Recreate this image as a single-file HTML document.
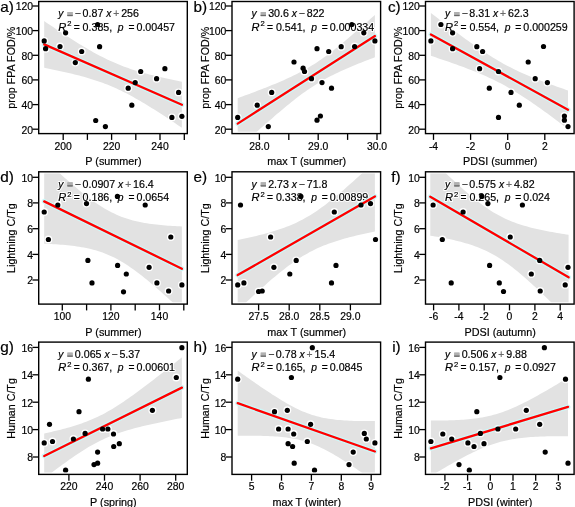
<!DOCTYPE html><html><head><meta charset="utf-8"><style>html,body{margin:0;padding:0;background:#fff;}svg{display:block;will-change:transform;}text{font-family:"Liberation Sans",sans-serif;fill:#000;stroke:#000;stroke-width:0.18px;}.h text{fill:#fff;stroke:#fff;stroke-width:2.2px;stroke-linejoin:round;} text.op{fill:#333;stroke:#333;stroke-width:0.2px;}text.pl{fill:#6a6a6a;stroke:#6a6a6a;}.h text.op{fill:#fff;stroke:#fff;}</style></head><body><svg width="575" height="507" viewBox="0 0 575 507" font-family="Liberation Sans, sans-serif"><defs><clipPath id="cla"><rect x="40.50" y="3.30" width="145.00" height="128.50"/></clipPath><clipPath id="clb"><rect x="233.80" y="3.30" width="145.00" height="128.50"/></clipPath><clipPath id="clc"><rect x="427.30" y="3.30" width="145.00" height="128.50"/></clipPath><clipPath id="cld"><rect x="40.50" y="173.60" width="145.00" height="128.70"/></clipPath><clipPath id="cle"><rect x="233.80" y="173.60" width="145.00" height="128.70"/></clipPath><clipPath id="clf"><rect x="427.30" y="173.60" width="145.00" height="128.70"/></clipPath><clipPath id="clg"><rect x="40.50" y="343.90" width="145.00" height="128.70"/></clipPath><clipPath id="clh"><rect x="233.80" y="343.90" width="145.00" height="128.70"/></clipPath><clipPath id="cli"><rect x="427.30" y="343.90" width="145.00" height="128.70"/></clipPath></defs><rect width="575" height="507" fill="#fff"/><g clip-path="url(#cla)">
<polygon points="44.20,21.04 46.53,22.63 48.87,24.20 51.20,25.77 53.54,27.33 55.87,28.89 58.20,30.44 60.54,31.97 62.87,33.50 65.21,35.02 67.54,36.53 69.87,38.03 72.21,39.52 74.54,40.99 76.87,42.45 79.21,43.89 81.54,45.31 83.88,46.72 86.21,48.10 88.54,49.47 90.88,50.81 93.21,52.13 95.55,53.42 97.88,54.68 100.21,55.91 102.55,57.11 104.88,58.28 107.22,59.42 109.55,60.52 111.88,61.59 114.22,62.62 116.55,63.62 118.88,64.58 121.22,65.51 123.55,66.40 125.89,67.26 128.22,68.09 130.55,68.89 132.89,69.66 135.22,70.41 137.56,71.12 139.89,71.82 142.22,72.49 144.56,73.14 146.89,73.77 149.23,74.38 151.56,74.98 153.89,75.56 156.23,76.13 158.56,76.68 160.89,77.22 163.23,77.75 165.56,78.27 167.90,78.78 170.23,79.29 172.56,79.78 174.90,80.27 177.23,80.75 179.57,81.22 181.90,81.69 181.90,127.78 179.57,126.20 177.23,124.63 174.90,123.06 172.56,121.50 170.23,119.95 167.90,118.41 165.56,116.87 163.23,115.35 160.89,113.84 158.56,112.33 156.23,110.84 153.89,109.36 151.56,107.90 149.23,106.45 146.89,105.02 144.56,103.61 142.22,102.21 139.89,100.84 137.56,99.49 135.22,98.16 132.89,96.86 130.55,95.58 128.22,94.33 125.89,93.12 123.55,91.94 121.22,90.78 118.88,89.67 116.55,88.58 114.22,87.54 111.88,86.52 109.55,85.55 107.22,84.60 104.88,83.70 102.55,82.82 100.21,81.98 97.88,81.17 95.55,80.38 93.21,79.63 90.88,78.90 88.54,78.20 86.21,77.52 83.88,76.86 81.54,76.22 79.21,75.60 76.87,74.99 74.54,74.41 72.21,73.83 69.87,73.27 67.54,72.73 65.21,72.19 62.87,71.67 60.54,71.15 58.20,70.65 55.87,70.15 53.54,69.66 51.20,69.18 48.87,68.70 46.53,68.23 44.20,67.77" fill="#e2e2e2"/>
<circle cx="44.20" cy="40.90" r="3.95" fill="#fff"/>
<circle cx="45.60" cy="48.70" r="3.95" fill="#fff"/>
<circle cx="60.00" cy="46.50" r="3.95" fill="#fff"/>
<circle cx="65.60" cy="32.80" r="3.95" fill="#fff"/>
<circle cx="75.30" cy="62.60" r="3.95" fill="#fff"/>
<circle cx="81.70" cy="51.50" r="3.95" fill="#fff"/>
<circle cx="95.70" cy="120.50" r="3.95" fill="#fff"/>
<circle cx="97.60" cy="24.50" r="3.95" fill="#fff"/>
<circle cx="99.60" cy="46.70" r="3.95" fill="#fff"/>
<circle cx="105.40" cy="126.60" r="3.95" fill="#fff"/>
<circle cx="128.20" cy="88.20" r="3.95" fill="#fff"/>
<circle cx="131.80" cy="105.20" r="3.95" fill="#fff"/>
<circle cx="135.20" cy="82.60" r="3.95" fill="#fff"/>
<circle cx="140.70" cy="71.50" r="3.95" fill="#fff"/>
<circle cx="156.60" cy="78.70" r="3.95" fill="#fff"/>
<circle cx="164.90" cy="68.70" r="3.95" fill="#fff"/>
<circle cx="171.90" cy="117.40" r="3.95" fill="#fff"/>
<circle cx="178.60" cy="92.40" r="3.95" fill="#fff"/>
<circle cx="181.90" cy="116.30" r="3.95" fill="#fff"/>
</g>
<g class="h"><text x="58.20" y="17.30" font-size="10.3" text-anchor="start" font-style="italic">y</text><rect x="67.45" y="12.00" width="5.2" height="3.8" fill="#b0b0b0"/><rect x="67.45" y="14.90" width="5.2" height="1.2" fill="#6a6a6a"/><text x="74.87" y="17.30" font-size="10.3" text-anchor="start" class="op">−</text><text x="82.58" y="17.30" font-size="10.3" text-anchor="start" textLength="20.75" lengthAdjust="spacingAndGlyphs">0.87</text><text x="106.23" y="17.30" font-size="10.3" text-anchor="start" font-style="italic">x</text><text x="113.28" y="17.30" font-size="10.3" text-anchor="start" class="op pl">+</text><text x="121.19" y="17.30" font-size="10.3" text-anchor="start" textLength="17.79" lengthAdjust="spacingAndGlyphs">256</text><text x="58.20" y="30.80" font-size="10.3" text-anchor="start" font-style="italic" textLength="8.03" lengthAdjust="spacingAndGlyphs">R</text><text x="67.13" y="26.20" font-size="7.6" text-anchor="start">2</text><text x="73.66" y="30.80" font-size="10.3" text-anchor="start">=</text><text x="82.64" y="30.80" font-size="10.3" text-anchor="start" textLength="29.64" lengthAdjust="spacingAndGlyphs">0.385,</text><text x="117.87" y="30.80" font-size="10.3" text-anchor="start" font-style="italic">p</text><text x="128.40" y="30.80" font-size="10.3" text-anchor="start">=</text><text x="136.48" y="30.80" font-size="10.3" text-anchor="start" textLength="38.54" lengthAdjust="spacingAndGlyphs">0.00457</text></g><text x="58.20" y="17.30" font-size="10.3" text-anchor="start" font-style="italic">y</text><rect x="67.45" y="12.00" width="5.2" height="3.8" fill="#b0b0b0"/><rect x="67.45" y="14.90" width="5.2" height="1.2" fill="#6a6a6a"/><text x="74.87" y="17.30" font-size="10.3" text-anchor="start" class="op">−</text><text x="82.58" y="17.30" font-size="10.3" text-anchor="start" textLength="20.75" lengthAdjust="spacingAndGlyphs">0.87</text><text x="106.23" y="17.30" font-size="10.3" text-anchor="start" font-style="italic">x</text><text x="113.28" y="17.30" font-size="10.3" text-anchor="start" class="op pl">+</text><text x="121.19" y="17.30" font-size="10.3" text-anchor="start" textLength="17.79" lengthAdjust="spacingAndGlyphs">256</text><text x="58.20" y="30.80" font-size="10.3" text-anchor="start" font-style="italic" textLength="8.03" lengthAdjust="spacingAndGlyphs">R</text><text x="67.13" y="26.20" font-size="7.6" text-anchor="start">2</text><text x="73.66" y="30.80" font-size="10.3" text-anchor="start">=</text><text x="82.64" y="30.80" font-size="10.3" text-anchor="start" textLength="29.64" lengthAdjust="spacingAndGlyphs">0.385,</text><text x="117.87" y="30.80" font-size="10.3" text-anchor="start" font-style="italic">p</text><text x="128.40" y="30.80" font-size="10.3" text-anchor="start">=</text><text x="136.48" y="30.80" font-size="10.3" text-anchor="start" textLength="38.54" lengthAdjust="spacingAndGlyphs">0.00457</text>
<g clip-path="url(#cla)">
<line x1="44.20" y1="44.41" x2="181.90" y2="104.73" stroke="#ccf8f8" stroke-width="4.9" stroke-linecap="round"/>
<line x1="44.20" y1="44.41" x2="181.90" y2="104.73" stroke="#ff0000" stroke-width="2.3" stroke-linecap="round"/>
<circle cx="44.20" cy="40.90" r="2.6" fill="#000"/>
<circle cx="45.60" cy="48.70" r="2.6" fill="#000"/>
<circle cx="60.00" cy="46.50" r="2.6" fill="#000"/>
<circle cx="65.60" cy="32.80" r="2.6" fill="#000"/>
<circle cx="75.30" cy="62.60" r="2.6" fill="#000"/>
<circle cx="81.70" cy="51.50" r="2.6" fill="#000"/>
<circle cx="95.70" cy="120.50" r="2.6" fill="#000"/>
<circle cx="97.60" cy="24.50" r="2.6" fill="#000"/>
<circle cx="99.60" cy="46.70" r="2.6" fill="#000"/>
<circle cx="105.40" cy="126.60" r="2.6" fill="#000"/>
<circle cx="128.20" cy="88.20" r="2.6" fill="#000"/>
<circle cx="131.80" cy="105.20" r="2.6" fill="#000"/>
<circle cx="135.20" cy="82.60" r="2.6" fill="#000"/>
<circle cx="140.70" cy="71.50" r="2.6" fill="#000"/>
<circle cx="156.60" cy="78.70" r="2.6" fill="#000"/>
<circle cx="164.90" cy="68.70" r="2.6" fill="#000"/>
<circle cx="171.90" cy="117.40" r="2.6" fill="#000"/>
<circle cx="178.60" cy="92.40" r="2.6" fill="#000"/>
<circle cx="181.90" cy="116.30" r="2.6" fill="#000"/>
</g>
<rect x="38.70" y="1.50" width="148.60" height="132.10" fill="none" stroke="#000" stroke-width="1.4"/>
<line x1="32.40" y1="6.00" x2="38.70" y2="6.00" stroke="#000" stroke-width="1.3"/>
<text x="33.10" y="10.30" font-size="10.4" text-anchor="end">120</text>
<line x1="32.40" y1="30.60" x2="38.70" y2="30.60" stroke="#000" stroke-width="1.3"/>
<text x="33.10" y="34.90" font-size="10.4" text-anchor="end">100</text>
<line x1="32.40" y1="55.30" x2="38.70" y2="55.30" stroke="#000" stroke-width="1.3"/>
<text x="33.10" y="59.60" font-size="10.4" text-anchor="end">80</text>
<line x1="32.40" y1="79.90" x2="38.70" y2="79.90" stroke="#000" stroke-width="1.3"/>
<text x="33.10" y="84.20" font-size="10.4" text-anchor="end">60</text>
<line x1="32.40" y1="104.60" x2="38.70" y2="104.60" stroke="#000" stroke-width="1.3"/>
<text x="33.10" y="108.90" font-size="10.4" text-anchor="end">40</text>
<line x1="32.40" y1="129.20" x2="38.70" y2="129.20" stroke="#000" stroke-width="1.3"/>
<text x="33.10" y="133.50" font-size="10.4" text-anchor="end">20</text>
<line x1="63.20" y1="133.60" x2="63.20" y2="139.90" stroke="#000" stroke-width="1.3"/>
<text x="63.20" y="149.50" font-size="10.4" text-anchor="middle">200</text>
<line x1="87.40" y1="133.60" x2="87.40" y2="139.90" stroke="#000" stroke-width="1.3"/>
<line x1="111.60" y1="133.60" x2="111.60" y2="139.90" stroke="#000" stroke-width="1.3"/>
<text x="111.60" y="149.50" font-size="10.4" text-anchor="middle">220</text>
<line x1="135.80" y1="133.60" x2="135.80" y2="139.90" stroke="#000" stroke-width="1.3"/>
<line x1="160.00" y1="133.60" x2="160.00" y2="139.90" stroke="#000" stroke-width="1.3"/>
<text x="160.00" y="149.50" font-size="10.4" text-anchor="middle">240</text>
<line x1="184.30" y1="133.60" x2="184.30" y2="139.90" stroke="#000" stroke-width="1.3"/>
<text x="113.40" y="165.00" font-size="10.8" text-anchor="middle">P (summer)</text>
<text x="0" y="0" font-size="10.7" text-anchor="middle" transform="translate(15.20,67.75) rotate(-90)">prop FPA FOD/%</text>
<text x="13.90" y="11.80" font-size="13.9" text-anchor="end" textLength="13.60" lengthAdjust="spacingAndGlyphs">a)</text>
<g clip-path="url(#clb)">
<polygon points="237.70,98.18 240.03,97.33 242.35,96.48 244.68,95.62 247.00,94.75 249.33,93.89 251.65,93.01 253.98,92.14 256.30,91.25 258.63,90.36 260.95,89.46 263.28,88.56 265.61,87.64 267.93,86.72 270.26,85.78 272.58,84.84 274.91,83.88 277.23,82.91 279.56,81.92 281.88,80.92 284.21,79.89 286.53,78.85 288.86,77.79 291.18,76.70 293.51,75.58 295.84,74.43 298.16,73.25 300.49,72.04 302.81,70.79 305.14,69.50 307.46,68.17 309.79,66.79 312.11,65.37 314.44,63.91 316.76,62.40 319.09,60.84 321.42,59.24 323.74,57.60 326.07,55.92 328.39,54.20 330.72,52.44 333.04,50.64 335.37,48.82 337.69,46.96 340.02,45.08 342.34,43.18 344.67,41.25 346.99,39.30 349.32,37.34 351.65,35.35 353.97,33.36 356.30,31.35 358.62,29.32 360.95,27.29 363.27,25.24 365.60,23.19 367.92,21.13 370.25,19.06 372.57,16.98 374.90,14.89 374.90,57.26 372.57,58.15 370.25,59.04 367.92,59.93 365.60,60.84 363.27,61.75 360.95,62.67 358.62,63.61 356.30,64.55 353.97,65.51 351.65,66.48 349.32,67.46 346.99,68.46 344.67,69.48 342.34,70.52 340.02,71.58 337.69,72.67 335.37,73.78 333.04,74.93 330.72,76.10 328.39,77.31 326.07,78.55 323.74,79.83 321.42,81.16 319.09,82.53 316.76,83.94 314.44,85.40 312.11,86.90 309.79,88.45 307.46,90.04 305.14,91.68 302.81,93.35 300.49,95.07 298.16,96.82 295.84,98.61 293.51,100.43 291.18,102.28 288.86,104.16 286.53,106.06 284.21,107.99 281.88,109.93 279.56,111.89 277.23,113.87 274.91,115.87 272.58,117.88 270.26,119.90 267.93,121.93 265.61,123.98 263.28,126.03 260.95,128.09 258.63,130.16 256.30,132.24 253.98,134.32 251.65,136.41 249.33,138.50 247.00,140.60 244.68,142.71 242.35,144.81 240.03,146.93 237.70,149.04" fill="#e2e2e2"/>
<circle cx="237.70" cy="117.40" r="3.95" fill="#fff"/>
<circle cx="257.20" cy="105.20" r="3.95" fill="#fff"/>
<circle cx="268.30" cy="126.60" r="3.95" fill="#fff"/>
<circle cx="271.70" cy="92.40" r="3.95" fill="#fff"/>
<circle cx="294.00" cy="62.00" r="3.95" fill="#fff"/>
<circle cx="303.10" cy="68.20" r="3.95" fill="#fff"/>
<circle cx="304.50" cy="71.50" r="3.95" fill="#fff"/>
<circle cx="311.50" cy="78.70" r="3.95" fill="#fff"/>
<circle cx="317.00" cy="48.70" r="3.95" fill="#fff"/>
<circle cx="317.00" cy="120.20" r="3.95" fill="#fff"/>
<circle cx="320.40" cy="116.00" r="3.95" fill="#fff"/>
<circle cx="322.00" cy="82.60" r="3.95" fill="#fff"/>
<circle cx="328.70" cy="51.50" r="3.95" fill="#fff"/>
<circle cx="331.50" cy="88.20" r="3.95" fill="#fff"/>
<circle cx="341.20" cy="46.70" r="3.95" fill="#fff"/>
<circle cx="351.80" cy="24.50" r="3.95" fill="#fff"/>
<circle cx="354.60" cy="46.50" r="3.95" fill="#fff"/>
<circle cx="363.80" cy="32.80" r="3.95" fill="#fff"/>
<circle cx="374.90" cy="40.90" r="3.95" fill="#fff"/>
</g>
<g class="h"><text x="251.50" y="17.30" font-size="10.3" text-anchor="start" font-style="italic">y</text><rect x="260.75" y="12.00" width="5.2" height="3.8" fill="#b0b0b0"/><rect x="260.75" y="14.90" width="5.2" height="1.2" fill="#6a6a6a"/><text x="268.17" y="17.30" font-size="10.3" text-anchor="start" textLength="20.75" lengthAdjust="spacingAndGlyphs">30.6</text><text x="291.81" y="17.30" font-size="10.3" text-anchor="start" font-style="italic">x</text><text x="298.86" y="17.30" font-size="10.3" text-anchor="start" class="op">−</text><text x="306.78" y="17.30" font-size="10.3" text-anchor="start" textLength="17.79" lengthAdjust="spacingAndGlyphs">822</text><text x="251.50" y="30.80" font-size="10.3" text-anchor="start" font-style="italic" textLength="8.03" lengthAdjust="spacingAndGlyphs">R</text><text x="260.43" y="26.20" font-size="7.6" text-anchor="start">2</text><text x="266.96" y="30.80" font-size="10.3" text-anchor="start">=</text><text x="275.94" y="30.80" font-size="10.3" text-anchor="start" textLength="29.64" lengthAdjust="spacingAndGlyphs">0.541,</text><text x="311.17" y="30.80" font-size="10.3" text-anchor="start" font-style="italic">p</text><text x="321.70" y="30.80" font-size="10.3" text-anchor="start">=</text><text x="329.78" y="30.80" font-size="10.3" text-anchor="start" textLength="44.46" lengthAdjust="spacingAndGlyphs">0.000334</text></g><text x="251.50" y="17.30" font-size="10.3" text-anchor="start" font-style="italic">y</text><rect x="260.75" y="12.00" width="5.2" height="3.8" fill="#b0b0b0"/><rect x="260.75" y="14.90" width="5.2" height="1.2" fill="#6a6a6a"/><text x="268.17" y="17.30" font-size="10.3" text-anchor="start" textLength="20.75" lengthAdjust="spacingAndGlyphs">30.6</text><text x="291.81" y="17.30" font-size="10.3" text-anchor="start" font-style="italic">x</text><text x="298.86" y="17.30" font-size="10.3" text-anchor="start" class="op">−</text><text x="306.78" y="17.30" font-size="10.3" text-anchor="start" textLength="17.79" lengthAdjust="spacingAndGlyphs">822</text><text x="251.50" y="30.80" font-size="10.3" text-anchor="start" font-style="italic" textLength="8.03" lengthAdjust="spacingAndGlyphs">R</text><text x="260.43" y="26.20" font-size="7.6" text-anchor="start">2</text><text x="266.96" y="30.80" font-size="10.3" text-anchor="start">=</text><text x="275.94" y="30.80" font-size="10.3" text-anchor="start" textLength="29.64" lengthAdjust="spacingAndGlyphs">0.541,</text><text x="311.17" y="30.80" font-size="10.3" text-anchor="start" font-style="italic">p</text><text x="321.70" y="30.80" font-size="10.3" text-anchor="start">=</text><text x="329.78" y="30.80" font-size="10.3" text-anchor="start" textLength="44.46" lengthAdjust="spacingAndGlyphs">0.000334</text>
<g clip-path="url(#clb)">
<line x1="237.70" y1="123.61" x2="374.90" y2="36.08" stroke="#ccf8f8" stroke-width="4.9" stroke-linecap="round"/>
<line x1="237.70" y1="123.61" x2="374.90" y2="36.08" stroke="#ff0000" stroke-width="2.3" stroke-linecap="round"/>
<circle cx="237.70" cy="117.40" r="2.6" fill="#000"/>
<circle cx="257.20" cy="105.20" r="2.6" fill="#000"/>
<circle cx="268.30" cy="126.60" r="2.6" fill="#000"/>
<circle cx="271.70" cy="92.40" r="2.6" fill="#000"/>
<circle cx="294.00" cy="62.00" r="2.6" fill="#000"/>
<circle cx="303.10" cy="68.20" r="2.6" fill="#000"/>
<circle cx="304.50" cy="71.50" r="2.6" fill="#000"/>
<circle cx="311.50" cy="78.70" r="2.6" fill="#000"/>
<circle cx="317.00" cy="48.70" r="2.6" fill="#000"/>
<circle cx="317.00" cy="120.20" r="2.6" fill="#000"/>
<circle cx="320.40" cy="116.00" r="2.6" fill="#000"/>
<circle cx="322.00" cy="82.60" r="2.6" fill="#000"/>
<circle cx="328.70" cy="51.50" r="2.6" fill="#000"/>
<circle cx="331.50" cy="88.20" r="2.6" fill="#000"/>
<circle cx="341.20" cy="46.70" r="2.6" fill="#000"/>
<circle cx="351.80" cy="24.50" r="2.6" fill="#000"/>
<circle cx="354.60" cy="46.50" r="2.6" fill="#000"/>
<circle cx="363.80" cy="32.80" r="2.6" fill="#000"/>
<circle cx="374.90" cy="40.90" r="2.6" fill="#000"/>
</g>
<rect x="232.00" y="1.50" width="148.60" height="132.10" fill="none" stroke="#000" stroke-width="1.4"/>
<line x1="225.70" y1="6.00" x2="232.00" y2="6.00" stroke="#000" stroke-width="1.3"/>
<text x="226.40" y="10.30" font-size="10.4" text-anchor="end">120</text>
<line x1="225.70" y1="30.60" x2="232.00" y2="30.60" stroke="#000" stroke-width="1.3"/>
<text x="226.40" y="34.90" font-size="10.4" text-anchor="end">100</text>
<line x1="225.70" y1="55.30" x2="232.00" y2="55.30" stroke="#000" stroke-width="1.3"/>
<text x="226.40" y="59.60" font-size="10.4" text-anchor="end">80</text>
<line x1="225.70" y1="79.90" x2="232.00" y2="79.90" stroke="#000" stroke-width="1.3"/>
<text x="226.40" y="84.20" font-size="10.4" text-anchor="end">60</text>
<line x1="225.70" y1="104.60" x2="232.00" y2="104.60" stroke="#000" stroke-width="1.3"/>
<text x="226.40" y="108.90" font-size="10.4" text-anchor="end">40</text>
<line x1="225.70" y1="129.20" x2="232.00" y2="129.20" stroke="#000" stroke-width="1.3"/>
<text x="226.40" y="133.50" font-size="10.4" text-anchor="end">20</text>
<line x1="259.40" y1="133.60" x2="259.40" y2="139.90" stroke="#000" stroke-width="1.3"/>
<text x="259.40" y="149.50" font-size="10.4" text-anchor="middle">28.0</text>
<line x1="288.80" y1="133.60" x2="288.80" y2="139.90" stroke="#000" stroke-width="1.3"/>
<line x1="318.20" y1="133.60" x2="318.20" y2="139.90" stroke="#000" stroke-width="1.3"/>
<text x="318.20" y="149.50" font-size="10.4" text-anchor="middle">29.0</text>
<line x1="347.60" y1="133.60" x2="347.60" y2="139.90" stroke="#000" stroke-width="1.3"/>
<line x1="377.00" y1="133.60" x2="377.00" y2="139.90" stroke="#000" stroke-width="1.3"/>
<text x="377.00" y="149.50" font-size="10.4" text-anchor="middle">30.0</text>
<text x="306.70" y="165.00" font-size="10.8" text-anchor="middle">max T (summer)</text>
<text x="0" y="0" font-size="10.7" text-anchor="middle" transform="translate(208.50,67.75) rotate(-90)">prop FPA FOD/%</text>
<text x="207.20" y="11.80" font-size="13.9" text-anchor="end" textLength="13.60" lengthAdjust="spacingAndGlyphs">b)</text>
<g clip-path="url(#clc)">
<polygon points="430.90,13.02 433.22,14.80 435.55,16.58 437.87,18.36 440.19,20.13 442.52,21.90 444.84,23.66 447.17,25.41 449.49,27.16 451.81,28.90 454.14,30.63 456.46,32.35 458.78,34.07 461.11,35.77 463.43,37.46 465.76,39.15 468.08,40.81 470.40,42.47 472.73,44.11 475.05,45.73 477.37,47.33 479.70,48.92 482.02,50.48 484.35,52.02 486.67,53.54 488.99,55.03 491.32,56.50 493.64,57.94 495.96,59.34 498.29,60.72 500.61,62.07 502.94,63.38 505.26,64.66 507.58,65.91 509.91,67.12 512.23,68.31 514.55,69.46 516.88,70.58 519.20,71.68 521.53,72.74 523.85,73.79 526.17,74.80 528.50,75.80 530.82,76.77 533.14,77.72 535.47,78.66 537.79,79.57 540.12,80.48 542.44,81.36 544.76,82.24 547.09,83.10 549.41,83.95 551.73,84.79 554.06,85.62 556.38,86.45 558.71,87.26 561.03,88.07 563.35,88.87 565.68,89.66 568.00,90.45 568.00,128.99 565.68,127.23 563.35,125.47 561.03,123.72 558.71,121.97 556.38,120.23 554.06,118.50 551.73,116.78 549.41,115.07 547.09,113.37 544.76,111.68 542.44,110.00 540.12,108.34 537.79,106.69 535.47,105.05 533.14,103.43 530.82,101.83 528.50,100.25 526.17,98.70 523.85,97.16 521.53,95.65 519.20,94.16 516.88,92.71 514.55,91.28 512.23,89.88 509.91,88.51 507.58,87.17 505.26,85.87 502.94,84.60 500.61,83.36 498.29,82.15 495.96,80.97 493.64,79.83 491.32,78.71 488.99,77.63 486.67,76.57 484.35,75.53 482.02,74.52 479.70,73.53 477.37,72.57 475.05,71.62 472.73,70.69 470.40,69.77 468.08,68.88 465.76,67.99 463.43,67.12 461.11,66.26 458.78,65.41 456.46,64.58 454.14,63.75 451.81,62.93 449.49,62.11 447.17,61.31 444.84,60.51 442.52,59.72 440.19,58.93 437.87,58.15 435.55,57.37 433.22,56.60 430.90,55.84" fill="#e2e2e2"/>
<circle cx="430.90" cy="40.90" r="3.95" fill="#fff"/>
<circle cx="440.90" cy="24.50" r="3.95" fill="#fff"/>
<circle cx="452.60" cy="32.80" r="3.95" fill="#fff"/>
<circle cx="452.60" cy="48.70" r="3.95" fill="#fff"/>
<circle cx="476.80" cy="46.70" r="3.95" fill="#fff"/>
<circle cx="482.60" cy="51.50" r="3.95" fill="#fff"/>
<circle cx="479.60" cy="68.70" r="3.95" fill="#fff"/>
<circle cx="498.50" cy="71.50" r="3.95" fill="#fff"/>
<circle cx="489.30" cy="88.20" r="3.95" fill="#fff"/>
<circle cx="498.50" cy="117.40" r="3.95" fill="#fff"/>
<circle cx="511.00" cy="92.40" r="3.95" fill="#fff"/>
<circle cx="519.30" cy="105.20" r="3.95" fill="#fff"/>
<circle cx="528.20" cy="62.00" r="3.95" fill="#fff"/>
<circle cx="535.20" cy="78.70" r="3.95" fill="#fff"/>
<circle cx="543.50" cy="46.50" r="3.95" fill="#fff"/>
<circle cx="547.40" cy="82.60" r="3.95" fill="#fff"/>
<circle cx="564.40" cy="116.00" r="3.95" fill="#fff"/>
<circle cx="564.40" cy="120.20" r="3.95" fill="#fff"/>
<circle cx="568.00" cy="126.60" r="3.95" fill="#fff"/>
</g>
<g class="h"><text x="445.00" y="17.30" font-size="10.3" text-anchor="start" font-style="italic">y</text><rect x="454.25" y="12.00" width="5.2" height="3.8" fill="#b0b0b0"/><rect x="454.25" y="14.90" width="5.2" height="1.2" fill="#6a6a6a"/><text x="461.67" y="17.30" font-size="10.3" text-anchor="start" class="op">−</text><text x="469.38" y="17.30" font-size="10.3" text-anchor="start" textLength="20.75" lengthAdjust="spacingAndGlyphs">8.31</text><text x="493.03" y="17.30" font-size="10.3" text-anchor="start" font-style="italic">x</text><text x="500.08" y="17.30" font-size="10.3" text-anchor="start" class="op pl">+</text><text x="507.99" y="17.30" font-size="10.3" text-anchor="start" textLength="20.75" lengthAdjust="spacingAndGlyphs">62.3</text><text x="445.00" y="30.80" font-size="10.3" text-anchor="start" font-style="italic" textLength="8.03" lengthAdjust="spacingAndGlyphs">R</text><text x="453.93" y="26.20" font-size="7.6" text-anchor="start">2</text><text x="460.46" y="30.80" font-size="10.3" text-anchor="start">=</text><text x="469.44" y="30.80" font-size="10.3" text-anchor="start" textLength="29.64" lengthAdjust="spacingAndGlyphs">0.554,</text><text x="504.67" y="30.80" font-size="10.3" text-anchor="start" font-style="italic">p</text><text x="515.20" y="30.80" font-size="10.3" text-anchor="start">=</text><text x="523.28" y="30.80" font-size="10.3" text-anchor="start" textLength="44.46" lengthAdjust="spacingAndGlyphs">0.000259</text></g><text x="445.00" y="17.30" font-size="10.3" text-anchor="start" font-style="italic">y</text><rect x="454.25" y="12.00" width="5.2" height="3.8" fill="#b0b0b0"/><rect x="454.25" y="14.90" width="5.2" height="1.2" fill="#6a6a6a"/><text x="461.67" y="17.30" font-size="10.3" text-anchor="start" class="op">−</text><text x="469.38" y="17.30" font-size="10.3" text-anchor="start" textLength="20.75" lengthAdjust="spacingAndGlyphs">8.31</text><text x="493.03" y="17.30" font-size="10.3" text-anchor="start" font-style="italic">x</text><text x="500.08" y="17.30" font-size="10.3" text-anchor="start" class="op pl">+</text><text x="507.99" y="17.30" font-size="10.3" text-anchor="start" textLength="20.75" lengthAdjust="spacingAndGlyphs">62.3</text><text x="445.00" y="30.80" font-size="10.3" text-anchor="start" font-style="italic" textLength="8.03" lengthAdjust="spacingAndGlyphs">R</text><text x="453.93" y="26.20" font-size="7.6" text-anchor="start">2</text><text x="460.46" y="30.80" font-size="10.3" text-anchor="start">=</text><text x="469.44" y="30.80" font-size="10.3" text-anchor="start" textLength="29.64" lengthAdjust="spacingAndGlyphs">0.554,</text><text x="504.67" y="30.80" font-size="10.3" text-anchor="start" font-style="italic">p</text><text x="515.20" y="30.80" font-size="10.3" text-anchor="start">=</text><text x="523.28" y="30.80" font-size="10.3" text-anchor="start" textLength="44.46" lengthAdjust="spacingAndGlyphs">0.000259</text>
<g clip-path="url(#clc)">
<line x1="430.90" y1="34.43" x2="568.00" y2="109.72" stroke="#ccf8f8" stroke-width="4.9" stroke-linecap="round"/>
<line x1="430.90" y1="34.43" x2="568.00" y2="109.72" stroke="#ff0000" stroke-width="2.3" stroke-linecap="round"/>
<circle cx="430.90" cy="40.90" r="2.6" fill="#000"/>
<circle cx="440.90" cy="24.50" r="2.6" fill="#000"/>
<circle cx="452.60" cy="32.80" r="2.6" fill="#000"/>
<circle cx="452.60" cy="48.70" r="2.6" fill="#000"/>
<circle cx="476.80" cy="46.70" r="2.6" fill="#000"/>
<circle cx="482.60" cy="51.50" r="2.6" fill="#000"/>
<circle cx="479.60" cy="68.70" r="2.6" fill="#000"/>
<circle cx="498.50" cy="71.50" r="2.6" fill="#000"/>
<circle cx="489.30" cy="88.20" r="2.6" fill="#000"/>
<circle cx="498.50" cy="117.40" r="2.6" fill="#000"/>
<circle cx="511.00" cy="92.40" r="2.6" fill="#000"/>
<circle cx="519.30" cy="105.20" r="2.6" fill="#000"/>
<circle cx="528.20" cy="62.00" r="2.6" fill="#000"/>
<circle cx="535.20" cy="78.70" r="2.6" fill="#000"/>
<circle cx="543.50" cy="46.50" r="2.6" fill="#000"/>
<circle cx="547.40" cy="82.60" r="2.6" fill="#000"/>
<circle cx="564.40" cy="116.00" r="2.6" fill="#000"/>
<circle cx="564.40" cy="120.20" r="2.6" fill="#000"/>
<circle cx="568.00" cy="126.60" r="2.6" fill="#000"/>
</g>
<rect x="425.50" y="1.50" width="148.60" height="132.10" fill="none" stroke="#000" stroke-width="1.4"/>
<line x1="419.20" y1="6.00" x2="425.50" y2="6.00" stroke="#000" stroke-width="1.3"/>
<text x="419.90" y="10.30" font-size="10.4" text-anchor="end">120</text>
<line x1="419.20" y1="30.60" x2="425.50" y2="30.60" stroke="#000" stroke-width="1.3"/>
<text x="419.90" y="34.90" font-size="10.4" text-anchor="end">100</text>
<line x1="419.20" y1="55.30" x2="425.50" y2="55.30" stroke="#000" stroke-width="1.3"/>
<text x="419.90" y="59.60" font-size="10.4" text-anchor="end">80</text>
<line x1="419.20" y1="79.90" x2="425.50" y2="79.90" stroke="#000" stroke-width="1.3"/>
<text x="419.90" y="84.20" font-size="10.4" text-anchor="end">60</text>
<line x1="419.20" y1="104.60" x2="425.50" y2="104.60" stroke="#000" stroke-width="1.3"/>
<text x="419.90" y="108.90" font-size="10.4" text-anchor="end">40</text>
<line x1="419.20" y1="129.20" x2="425.50" y2="129.20" stroke="#000" stroke-width="1.3"/>
<text x="419.90" y="133.50" font-size="10.4" text-anchor="end">20</text>
<line x1="433.50" y1="133.60" x2="433.50" y2="139.90" stroke="#000" stroke-width="1.3"/>
<text x="433.50" y="149.50" font-size="10.4" text-anchor="middle">-4</text>
<line x1="470.60" y1="133.60" x2="470.60" y2="139.90" stroke="#000" stroke-width="1.3"/>
<text x="470.60" y="149.50" font-size="10.4" text-anchor="middle">-2</text>
<line x1="507.70" y1="133.60" x2="507.70" y2="139.90" stroke="#000" stroke-width="1.3"/>
<text x="507.70" y="149.50" font-size="10.4" text-anchor="middle">0</text>
<line x1="544.80" y1="133.60" x2="544.80" y2="139.90" stroke="#000" stroke-width="1.3"/>
<text x="544.80" y="149.50" font-size="10.4" text-anchor="middle">2</text>
<text x="500.20" y="165.00" font-size="10.8" text-anchor="middle">PDSI (summer)</text>
<text x="0" y="0" font-size="10.7" text-anchor="middle" transform="translate(402.00,67.75) rotate(-90)">prop FPA FOD/%</text>
<text x="400.70" y="11.80" font-size="13.9" text-anchor="end" textLength="12.74" lengthAdjust="spacingAndGlyphs">c)</text>
<g clip-path="url(#cld)">
<polygon points="44.20,159.10 46.53,161.28 48.87,163.45 51.20,165.61 53.54,167.76 55.87,169.90 58.20,172.02 60.54,174.12 62.87,176.21 65.21,178.29 67.54,180.34 69.87,182.37 72.21,184.38 74.54,186.36 76.87,188.31 79.21,190.24 81.54,192.13 83.88,193.99 86.21,195.81 88.54,197.59 90.88,199.33 93.21,201.02 95.55,202.66 97.88,204.24 100.21,205.77 102.55,207.24 104.88,208.65 107.22,209.99 109.55,211.27 111.88,212.48 114.22,213.62 116.55,214.69 118.88,215.69 121.22,216.63 123.55,217.51 125.89,218.32 128.22,219.07 130.55,219.77 132.89,220.41 135.22,221.00 137.56,221.55 139.89,222.05 142.22,222.51 144.56,222.93 146.89,223.32 149.23,223.67 151.56,224.00 153.89,224.30 156.23,224.57 158.56,224.82 160.89,225.05 163.23,225.26 165.56,225.46 167.90,225.63 170.23,225.79 172.56,225.94 174.90,226.07 177.23,226.19 179.57,226.30 181.90,226.40 181.90,311.00 179.57,308.82 177.23,306.65 174.90,304.49 172.56,302.34 170.23,300.20 167.90,298.08 165.56,295.98 163.23,293.89 160.89,291.81 158.56,289.76 156.23,287.73 153.89,285.72 151.56,283.74 149.23,281.79 146.89,279.86 144.56,277.97 142.22,276.11 139.89,274.29 137.56,272.51 135.22,270.77 132.89,269.08 130.55,267.44 128.22,265.86 125.89,264.33 123.55,262.86 121.22,261.45 118.88,260.11 116.55,258.83 114.22,257.62 111.88,256.48 109.55,255.41 107.22,254.41 104.88,253.47 102.55,252.59 100.21,251.78 97.88,251.03 95.55,250.33 93.21,249.69 90.88,249.10 88.54,248.55 86.21,248.05 83.88,247.59 81.54,247.17 79.21,246.78 76.87,246.43 74.54,246.10 72.21,245.80 69.87,245.53 67.54,245.28 65.21,245.05 62.87,244.84 60.54,244.64 58.20,244.47 55.87,244.31 53.54,244.16 51.20,244.03 48.87,243.91 46.53,243.80 44.20,243.70" fill="#e2e2e2"/>
<circle cx="44.20" cy="212.00" r="3.95" fill="#fff"/>
<circle cx="48.40" cy="239.50" r="3.95" fill="#fff"/>
<circle cx="57.80" cy="205.00" r="3.95" fill="#fff"/>
<circle cx="86.50" cy="203.60" r="3.95" fill="#fff"/>
<circle cx="87.90" cy="260.40" r="3.95" fill="#fff"/>
<circle cx="92.00" cy="282.90" r="3.95" fill="#fff"/>
<circle cx="117.40" cy="196.40" r="3.95" fill="#fff"/>
<circle cx="117.60" cy="265.40" r="3.95" fill="#fff"/>
<circle cx="123.50" cy="291.80" r="3.95" fill="#fff"/>
<circle cx="126.30" cy="274.00" r="3.95" fill="#fff"/>
<circle cx="145.20" cy="205.00" r="3.95" fill="#fff"/>
<circle cx="149.10" cy="267.30" r="3.95" fill="#fff"/>
<circle cx="156.90" cy="282.90" r="3.95" fill="#fff"/>
<circle cx="168.60" cy="291.00" r="3.95" fill="#fff"/>
<circle cx="170.80" cy="237.00" r="3.95" fill="#fff"/>
<circle cx="181.90" cy="284.90" r="3.95" fill="#fff"/>
</g>
<g class="h"><text x="58.20" y="187.60" font-size="10.3" text-anchor="start" font-style="italic">y</text><rect x="67.45" y="182.30" width="5.2" height="3.8" fill="#b0b0b0"/><rect x="67.45" y="185.20" width="5.2" height="1.2" fill="#6a6a6a"/><text x="74.87" y="187.60" font-size="10.3" text-anchor="start" class="op">−</text><text x="82.58" y="187.60" font-size="10.3" text-anchor="start" textLength="32.61" lengthAdjust="spacingAndGlyphs">0.0907</text><text x="118.09" y="187.60" font-size="10.3" text-anchor="start" font-style="italic">x</text><text x="125.14" y="187.60" font-size="10.3" text-anchor="start" class="op pl">+</text><text x="133.05" y="187.60" font-size="10.3" text-anchor="start" textLength="20.75" lengthAdjust="spacingAndGlyphs">16.4</text><text x="58.20" y="201.10" font-size="10.3" text-anchor="start" font-style="italic" textLength="8.03" lengthAdjust="spacingAndGlyphs">R</text><text x="67.13" y="196.50" font-size="7.6" text-anchor="start">2</text><text x="73.66" y="201.10" font-size="10.3" text-anchor="start">=</text><text x="82.64" y="201.10" font-size="10.3" text-anchor="start" textLength="29.64" lengthAdjust="spacingAndGlyphs">0.186,</text><text x="117.87" y="201.10" font-size="10.3" text-anchor="start" font-style="italic">p</text><text x="128.40" y="201.10" font-size="10.3" text-anchor="start">=</text><text x="136.48" y="201.10" font-size="10.3" text-anchor="start" textLength="32.61" lengthAdjust="spacingAndGlyphs">0.0654</text></g><text x="58.20" y="187.60" font-size="10.3" text-anchor="start" font-style="italic">y</text><rect x="67.45" y="182.30" width="5.2" height="3.8" fill="#b0b0b0"/><rect x="67.45" y="185.20" width="5.2" height="1.2" fill="#6a6a6a"/><text x="74.87" y="187.60" font-size="10.3" text-anchor="start" class="op">−</text><text x="82.58" y="187.60" font-size="10.3" text-anchor="start" textLength="32.61" lengthAdjust="spacingAndGlyphs">0.0907</text><text x="118.09" y="187.60" font-size="10.3" text-anchor="start" font-style="italic">x</text><text x="125.14" y="187.60" font-size="10.3" text-anchor="start" class="op pl">+</text><text x="133.05" y="187.60" font-size="10.3" text-anchor="start" textLength="20.75" lengthAdjust="spacingAndGlyphs">16.4</text><text x="58.20" y="201.10" font-size="10.3" text-anchor="start" font-style="italic" textLength="8.03" lengthAdjust="spacingAndGlyphs">R</text><text x="67.13" y="196.50" font-size="7.6" text-anchor="start">2</text><text x="73.66" y="201.10" font-size="10.3" text-anchor="start">=</text><text x="82.64" y="201.10" font-size="10.3" text-anchor="start" textLength="29.64" lengthAdjust="spacingAndGlyphs">0.186,</text><text x="117.87" y="201.10" font-size="10.3" text-anchor="start" font-style="italic">p</text><text x="128.40" y="201.10" font-size="10.3" text-anchor="start">=</text><text x="136.48" y="201.10" font-size="10.3" text-anchor="start" textLength="32.61" lengthAdjust="spacingAndGlyphs">0.0654</text>
<g clip-path="url(#cld)">
<line x1="44.20" y1="201.40" x2="181.90" y2="268.70" stroke="#ccf8f8" stroke-width="4.9" stroke-linecap="round"/>
<line x1="44.20" y1="201.40" x2="181.90" y2="268.70" stroke="#ff0000" stroke-width="2.3" stroke-linecap="round"/>
<circle cx="44.20" cy="212.00" r="2.6" fill="#000"/>
<circle cx="48.40" cy="239.50" r="2.6" fill="#000"/>
<circle cx="57.80" cy="205.00" r="2.6" fill="#000"/>
<circle cx="86.50" cy="203.60" r="2.6" fill="#000"/>
<circle cx="87.90" cy="260.40" r="2.6" fill="#000"/>
<circle cx="92.00" cy="282.90" r="2.6" fill="#000"/>
<circle cx="117.40" cy="196.40" r="2.6" fill="#000"/>
<circle cx="117.60" cy="265.40" r="2.6" fill="#000"/>
<circle cx="123.50" cy="291.80" r="2.6" fill="#000"/>
<circle cx="126.30" cy="274.00" r="2.6" fill="#000"/>
<circle cx="145.20" cy="205.00" r="2.6" fill="#000"/>
<circle cx="149.10" cy="267.30" r="2.6" fill="#000"/>
<circle cx="156.90" cy="282.90" r="2.6" fill="#000"/>
<circle cx="168.60" cy="291.00" r="2.6" fill="#000"/>
<circle cx="170.80" cy="237.00" r="2.6" fill="#000"/>
<circle cx="181.90" cy="284.90" r="2.6" fill="#000"/>
</g>
<rect x="38.70" y="171.80" width="148.60" height="132.30" fill="none" stroke="#000" stroke-width="1.4"/>
<line x1="32.40" y1="177.30" x2="38.70" y2="177.30" stroke="#000" stroke-width="1.3"/>
<text x="33.10" y="181.60" font-size="10.4" text-anchor="end">10</text>
<line x1="32.40" y1="202.90" x2="38.70" y2="202.90" stroke="#000" stroke-width="1.3"/>
<text x="33.10" y="207.20" font-size="10.4" text-anchor="end">8</text>
<line x1="32.40" y1="228.70" x2="38.70" y2="228.70" stroke="#000" stroke-width="1.3"/>
<text x="33.10" y="233.00" font-size="10.4" text-anchor="end">6</text>
<line x1="32.40" y1="254.40" x2="38.70" y2="254.40" stroke="#000" stroke-width="1.3"/>
<text x="33.10" y="258.70" font-size="10.4" text-anchor="end">4</text>
<line x1="32.40" y1="280.00" x2="38.70" y2="280.00" stroke="#000" stroke-width="1.3"/>
<text x="33.10" y="284.30" font-size="10.4" text-anchor="end">2</text>
<line x1="62.30" y1="304.10" x2="62.30" y2="310.40" stroke="#000" stroke-width="1.3"/>
<text x="62.30" y="320.00" font-size="10.4" text-anchor="middle">100</text>
<line x1="86.60" y1="304.10" x2="86.60" y2="310.40" stroke="#000" stroke-width="1.3"/>
<line x1="110.90" y1="304.10" x2="110.90" y2="310.40" stroke="#000" stroke-width="1.3"/>
<text x="110.90" y="320.00" font-size="10.4" text-anchor="middle">120</text>
<line x1="135.20" y1="304.10" x2="135.20" y2="310.40" stroke="#000" stroke-width="1.3"/>
<line x1="159.50" y1="304.10" x2="159.50" y2="310.40" stroke="#000" stroke-width="1.3"/>
<text x="159.50" y="320.00" font-size="10.4" text-anchor="middle">140</text>
<line x1="183.80" y1="304.10" x2="183.80" y2="310.40" stroke="#000" stroke-width="1.3"/>
<text x="113.40" y="335.50" font-size="10.8" text-anchor="middle">P (summer)</text>
<text x="0" y="0" font-size="10.7" text-anchor="middle" transform="translate(15.20,238.15) rotate(-90)">Lightning C/Tg</text>
<text x="13.90" y="182.10" font-size="13.9" text-anchor="end" textLength="13.60" lengthAdjust="spacingAndGlyphs">d)</text>
<g clip-path="url(#cle)">
<polygon points="237.70,239.90 240.03,239.43 242.35,238.96 244.68,238.47 247.00,237.98 249.33,237.47 251.65,236.95 253.98,236.42 256.30,235.88 258.63,235.32 260.95,234.74 263.28,234.15 265.61,233.54 267.93,232.90 270.26,232.25 272.58,231.57 274.91,230.86 277.23,230.12 279.56,229.35 281.88,228.55 284.21,227.71 286.53,226.84 288.86,225.92 291.18,224.95 293.51,223.94 295.84,222.88 298.16,221.77 300.49,220.60 302.81,219.38 305.14,218.11 307.46,216.77 309.79,215.38 312.11,213.93 314.44,212.43 316.76,210.88 319.09,209.27 321.42,207.61 323.74,205.91 326.07,204.16 328.39,202.37 330.72,200.54 333.04,198.68 335.37,196.77 337.69,194.84 340.02,192.88 342.34,190.90 344.67,188.88 346.99,186.85 349.32,184.79 351.65,182.72 353.97,180.63 356.30,178.52 358.62,176.40 360.95,174.26 363.27,172.11 365.60,169.95 367.92,167.77 370.25,165.59 372.57,163.40 374.90,161.20 374.90,231.60 372.57,232.07 370.25,232.54 367.92,233.03 365.60,233.52 363.27,234.03 360.95,234.55 358.62,235.08 356.30,235.62 353.97,236.18 351.65,236.76 349.32,237.35 346.99,237.96 344.67,238.60 342.34,239.25 340.02,239.93 337.69,240.64 335.37,241.38 333.04,242.15 330.72,242.95 328.39,243.79 326.07,244.66 323.74,245.58 321.42,246.55 319.09,247.56 316.76,248.62 314.44,249.73 312.11,250.90 309.79,252.12 307.46,253.39 305.14,254.73 302.81,256.12 300.49,257.57 298.16,259.07 295.84,260.62 293.51,262.23 291.18,263.89 288.86,265.59 286.53,267.34 284.21,269.13 281.88,270.96 279.56,272.82 277.23,274.73 274.91,276.66 272.58,278.62 270.26,280.60 267.93,282.62 265.61,284.65 263.28,286.71 260.95,288.78 258.63,290.87 256.30,292.98 253.98,295.10 251.65,297.24 249.33,299.39 247.00,301.55 244.68,303.73 242.35,305.91 240.03,308.10 237.70,310.30" fill="#e2e2e2"/>
<circle cx="237.70" cy="284.90" r="3.95" fill="#fff"/>
<circle cx="240.50" cy="205.00" r="3.95" fill="#fff"/>
<circle cx="243.90" cy="282.90" r="3.95" fill="#fff"/>
<circle cx="258.60" cy="291.50" r="3.95" fill="#fff"/>
<circle cx="262.20" cy="291.00" r="3.95" fill="#fff"/>
<circle cx="270.60" cy="237.00" r="3.95" fill="#fff"/>
<circle cx="273.90" cy="267.30" r="3.95" fill="#fff"/>
<circle cx="289.80" cy="274.00" r="3.95" fill="#fff"/>
<circle cx="296.20" cy="260.40" r="3.95" fill="#fff"/>
<circle cx="300.90" cy="196.40" r="3.95" fill="#fff"/>
<circle cx="331.50" cy="282.90" r="3.95" fill="#fff"/>
<circle cx="334.30" cy="212.00" r="3.95" fill="#fff"/>
<circle cx="336.00" cy="265.40" r="3.95" fill="#fff"/>
<circle cx="361.00" cy="205.00" r="3.95" fill="#fff"/>
<circle cx="370.50" cy="203.60" r="3.95" fill="#fff"/>
<circle cx="375.50" cy="239.50" r="3.95" fill="#fff"/>
</g>
<g class="h"><text x="251.50" y="187.60" font-size="10.3" text-anchor="start" font-style="italic">y</text><rect x="260.75" y="182.30" width="5.2" height="3.8" fill="#b0b0b0"/><rect x="260.75" y="185.20" width="5.2" height="1.2" fill="#6a6a6a"/><text x="268.17" y="187.60" font-size="10.3" text-anchor="start" textLength="20.75" lengthAdjust="spacingAndGlyphs">2.73</text><text x="291.81" y="187.60" font-size="10.3" text-anchor="start" font-style="italic">x</text><text x="298.86" y="187.60" font-size="10.3" text-anchor="start" class="op">−</text><text x="306.78" y="187.60" font-size="10.3" text-anchor="start" textLength="20.75" lengthAdjust="spacingAndGlyphs">71.8</text><text x="251.50" y="201.10" font-size="10.3" text-anchor="start" font-style="italic" textLength="8.03" lengthAdjust="spacingAndGlyphs">R</text><text x="260.43" y="196.50" font-size="7.6" text-anchor="start">2</text><text x="266.96" y="201.10" font-size="10.3" text-anchor="start">=</text><text x="275.94" y="201.10" font-size="10.3" text-anchor="start" textLength="29.64" lengthAdjust="spacingAndGlyphs">0.338,</text><text x="311.17" y="201.10" font-size="10.3" text-anchor="start" font-style="italic">p</text><text x="321.70" y="201.10" font-size="10.3" text-anchor="start">=</text><text x="329.78" y="201.10" font-size="10.3" text-anchor="start" textLength="38.54" lengthAdjust="spacingAndGlyphs">0.00899</text></g><text x="251.50" y="187.60" font-size="10.3" text-anchor="start" font-style="italic">y</text><rect x="260.75" y="182.30" width="5.2" height="3.8" fill="#b0b0b0"/><rect x="260.75" y="185.20" width="5.2" height="1.2" fill="#6a6a6a"/><text x="268.17" y="187.60" font-size="10.3" text-anchor="start" textLength="20.75" lengthAdjust="spacingAndGlyphs">2.73</text><text x="291.81" y="187.60" font-size="10.3" text-anchor="start" font-style="italic">x</text><text x="298.86" y="187.60" font-size="10.3" text-anchor="start" class="op">−</text><text x="306.78" y="187.60" font-size="10.3" text-anchor="start" textLength="20.75" lengthAdjust="spacingAndGlyphs">71.8</text><text x="251.50" y="201.10" font-size="10.3" text-anchor="start" font-style="italic" textLength="8.03" lengthAdjust="spacingAndGlyphs">R</text><text x="260.43" y="196.50" font-size="7.6" text-anchor="start">2</text><text x="266.96" y="201.10" font-size="10.3" text-anchor="start">=</text><text x="275.94" y="201.10" font-size="10.3" text-anchor="start" textLength="29.64" lengthAdjust="spacingAndGlyphs">0.338,</text><text x="311.17" y="201.10" font-size="10.3" text-anchor="start" font-style="italic">p</text><text x="321.70" y="201.10" font-size="10.3" text-anchor="start">=</text><text x="329.78" y="201.10" font-size="10.3" text-anchor="start" textLength="38.54" lengthAdjust="spacingAndGlyphs">0.00899</text>
<g clip-path="url(#cle)">
<line x1="237.70" y1="275.10" x2="374.90" y2="196.40" stroke="#ccf8f8" stroke-width="4.9" stroke-linecap="round"/>
<line x1="237.70" y1="275.10" x2="374.90" y2="196.40" stroke="#ff0000" stroke-width="2.3" stroke-linecap="round"/>
<circle cx="237.70" cy="284.90" r="2.6" fill="#000"/>
<circle cx="240.50" cy="205.00" r="2.6" fill="#000"/>
<circle cx="243.90" cy="282.90" r="2.6" fill="#000"/>
<circle cx="258.60" cy="291.50" r="2.6" fill="#000"/>
<circle cx="262.20" cy="291.00" r="2.6" fill="#000"/>
<circle cx="270.60" cy="237.00" r="2.6" fill="#000"/>
<circle cx="273.90" cy="267.30" r="2.6" fill="#000"/>
<circle cx="289.80" cy="274.00" r="2.6" fill="#000"/>
<circle cx="296.20" cy="260.40" r="2.6" fill="#000"/>
<circle cx="300.90" cy="196.40" r="2.6" fill="#000"/>
<circle cx="331.50" cy="282.90" r="2.6" fill="#000"/>
<circle cx="334.30" cy="212.00" r="2.6" fill="#000"/>
<circle cx="336.00" cy="265.40" r="2.6" fill="#000"/>
<circle cx="361.00" cy="205.00" r="2.6" fill="#000"/>
<circle cx="370.50" cy="203.60" r="2.6" fill="#000"/>
<circle cx="375.50" cy="239.50" r="2.6" fill="#000"/>
</g>
<rect x="232.00" y="171.80" width="148.60" height="132.30" fill="none" stroke="#000" stroke-width="1.4"/>
<line x1="225.70" y1="177.30" x2="232.00" y2="177.30" stroke="#000" stroke-width="1.3"/>
<text x="226.40" y="181.60" font-size="10.4" text-anchor="end">10</text>
<line x1="225.70" y1="202.90" x2="232.00" y2="202.90" stroke="#000" stroke-width="1.3"/>
<text x="226.40" y="207.20" font-size="10.4" text-anchor="end">8</text>
<line x1="225.70" y1="228.70" x2="232.00" y2="228.70" stroke="#000" stroke-width="1.3"/>
<text x="226.40" y="233.00" font-size="10.4" text-anchor="end">6</text>
<line x1="225.70" y1="254.40" x2="232.00" y2="254.40" stroke="#000" stroke-width="1.3"/>
<text x="226.40" y="258.70" font-size="10.4" text-anchor="end">4</text>
<line x1="225.70" y1="280.00" x2="232.00" y2="280.00" stroke="#000" stroke-width="1.3"/>
<text x="226.40" y="284.30" font-size="10.4" text-anchor="end">2</text>
<line x1="258.60" y1="304.10" x2="258.60" y2="310.40" stroke="#000" stroke-width="1.3"/>
<text x="258.60" y="320.00" font-size="10.4" text-anchor="middle">27.5</text>
<line x1="289.20" y1="304.10" x2="289.20" y2="310.40" stroke="#000" stroke-width="1.3"/>
<text x="289.20" y="320.00" font-size="10.4" text-anchor="middle">28.0</text>
<line x1="319.80" y1="304.10" x2="319.80" y2="310.40" stroke="#000" stroke-width="1.3"/>
<text x="319.80" y="320.00" font-size="10.4" text-anchor="middle">28.5</text>
<line x1="350.40" y1="304.10" x2="350.40" y2="310.40" stroke="#000" stroke-width="1.3"/>
<text x="350.40" y="320.00" font-size="10.4" text-anchor="middle">29.0</text>
<text x="306.70" y="335.50" font-size="10.8" text-anchor="middle">max T (summer)</text>
<text x="0" y="0" font-size="10.7" text-anchor="middle" transform="translate(208.50,238.15) rotate(-90)">Lightning C/Tg</text>
<text x="207.20" y="182.10" font-size="13.9" text-anchor="end" textLength="13.60" lengthAdjust="spacingAndGlyphs">e)</text>
<g clip-path="url(#clf)">
<polygon points="430.30,157.74 432.64,160.09 434.99,162.43 437.33,164.76 439.68,167.08 442.02,169.38 444.36,171.66 446.71,173.93 449.05,176.18 451.40,178.41 453.74,180.61 456.08,182.80 458.43,184.95 460.77,187.08 463.12,189.18 465.46,191.25 467.81,193.28 470.15,195.27 472.49,197.22 474.84,199.12 477.18,200.98 479.53,202.79 481.87,204.54 484.21,206.24 486.56,207.87 488.90,209.45 491.25,210.96 493.59,212.40 495.93,213.78 498.28,215.10 500.62,216.35 502.97,217.53 505.31,218.66 507.65,219.72 510.00,220.72 512.34,221.67 514.69,222.57 517.03,223.41 519.37,224.22 521.72,224.97 524.06,225.69 526.41,226.37 528.75,227.02 531.09,227.64 533.44,228.22 535.78,228.78 538.13,229.32 540.47,229.83 542.82,230.32 545.16,230.80 547.50,231.25 549.85,231.69 552.19,232.11 554.54,232.52 556.88,232.92 559.22,233.31 561.57,233.68 563.91,234.05 566.26,234.40 568.60,234.75 568.60,319.85 566.26,317.47 563.91,315.09 561.57,312.72 559.22,310.36 556.88,308.02 554.54,305.68 552.19,303.36 549.85,301.05 547.50,298.76 545.16,296.48 542.82,294.22 540.47,291.98 538.13,289.76 535.78,287.57 533.44,285.39 531.09,283.25 528.75,281.13 526.41,279.05 524.06,277.00 521.72,274.98 519.37,273.01 517.03,271.08 514.69,269.19 512.34,267.36 510.00,265.57 507.65,263.84 505.31,262.17 502.97,260.56 500.62,259.02 498.28,257.54 495.93,256.12 493.59,254.77 491.25,253.48 488.90,252.26 486.56,251.10 484.21,250.00 481.87,248.97 479.53,247.99 477.18,247.06 474.84,246.19 472.49,245.36 470.15,244.58 467.81,243.84 465.46,243.14 463.12,242.47 460.77,241.84 458.43,241.23 456.08,240.66 453.74,240.11 451.40,239.58 449.05,239.08 446.71,238.60 444.36,238.13 442.02,237.68 439.68,237.25 437.33,236.83 434.99,236.43 432.64,236.04 430.30,235.66" fill="#e2e2e2"/>
<circle cx="433.10" cy="205.00" r="3.95" fill="#fff"/>
<circle cx="442.30" cy="239.50" r="3.95" fill="#fff"/>
<circle cx="451.20" cy="282.90" r="3.95" fill="#fff"/>
<circle cx="463.10" cy="212.00" r="3.95" fill="#fff"/>
<circle cx="481.80" cy="196.40" r="3.95" fill="#fff"/>
<circle cx="487.90" cy="203.60" r="3.95" fill="#fff"/>
<circle cx="489.60" cy="265.40" r="3.95" fill="#fff"/>
<circle cx="499.30" cy="282.90" r="3.95" fill="#fff"/>
<circle cx="503.50" cy="291.50" r="3.95" fill="#fff"/>
<circle cx="510.20" cy="237.00" r="3.95" fill="#fff"/>
<circle cx="522.40" cy="205.00" r="3.95" fill="#fff"/>
<circle cx="531.30" cy="274.00" r="3.95" fill="#fff"/>
<circle cx="539.70" cy="260.40" r="3.95" fill="#fff"/>
<circle cx="540.20" cy="291.00" r="3.95" fill="#fff"/>
<circle cx="565.20" cy="284.90" r="3.95" fill="#fff"/>
<circle cx="568.00" cy="267.30" r="3.95" fill="#fff"/>
</g>
<g class="h"><text x="445.00" y="187.60" font-size="10.3" text-anchor="start" font-style="italic">y</text><rect x="454.25" y="182.30" width="5.2" height="3.8" fill="#b0b0b0"/><rect x="454.25" y="185.20" width="5.2" height="1.2" fill="#6a6a6a"/><text x="461.67" y="187.60" font-size="10.3" text-anchor="start" class="op">−</text><text x="469.38" y="187.60" font-size="10.3" text-anchor="start" textLength="26.68" lengthAdjust="spacingAndGlyphs">0.575</text><text x="498.96" y="187.60" font-size="10.3" text-anchor="start" font-style="italic">x</text><text x="506.01" y="187.60" font-size="10.3" text-anchor="start" class="op pl">+</text><text x="513.92" y="187.60" font-size="10.3" text-anchor="start" textLength="20.75" lengthAdjust="spacingAndGlyphs">4.82</text><text x="445.00" y="201.10" font-size="10.3" text-anchor="start" font-style="italic" textLength="8.03" lengthAdjust="spacingAndGlyphs">R</text><text x="453.93" y="196.50" font-size="7.6" text-anchor="start">2</text><text x="460.46" y="201.10" font-size="10.3" text-anchor="start">=</text><text x="469.44" y="201.10" font-size="10.3" text-anchor="start" textLength="29.64" lengthAdjust="spacingAndGlyphs">0.265,</text><text x="504.67" y="201.10" font-size="10.3" text-anchor="start" font-style="italic">p</text><text x="515.20" y="201.10" font-size="10.3" text-anchor="start">=</text><text x="523.28" y="201.10" font-size="10.3" text-anchor="start" textLength="26.68" lengthAdjust="spacingAndGlyphs">0.024</text></g><text x="445.00" y="187.60" font-size="10.3" text-anchor="start" font-style="italic">y</text><rect x="454.25" y="182.30" width="5.2" height="3.8" fill="#b0b0b0"/><rect x="454.25" y="185.20" width="5.2" height="1.2" fill="#6a6a6a"/><text x="461.67" y="187.60" font-size="10.3" text-anchor="start" class="op">−</text><text x="469.38" y="187.60" font-size="10.3" text-anchor="start" textLength="26.68" lengthAdjust="spacingAndGlyphs">0.575</text><text x="498.96" y="187.60" font-size="10.3" text-anchor="start" font-style="italic">x</text><text x="506.01" y="187.60" font-size="10.3" text-anchor="start" class="op pl">+</text><text x="513.92" y="187.60" font-size="10.3" text-anchor="start" textLength="20.75" lengthAdjust="spacingAndGlyphs">4.82</text><text x="445.00" y="201.10" font-size="10.3" text-anchor="start" font-style="italic" textLength="8.03" lengthAdjust="spacingAndGlyphs">R</text><text x="453.93" y="196.50" font-size="7.6" text-anchor="start">2</text><text x="460.46" y="201.10" font-size="10.3" text-anchor="start">=</text><text x="469.44" y="201.10" font-size="10.3" text-anchor="start" textLength="29.64" lengthAdjust="spacingAndGlyphs">0.265,</text><text x="504.67" y="201.10" font-size="10.3" text-anchor="start" font-style="italic">p</text><text x="515.20" y="201.10" font-size="10.3" text-anchor="start">=</text><text x="523.28" y="201.10" font-size="10.3" text-anchor="start" textLength="26.68" lengthAdjust="spacingAndGlyphs">0.024</text>
<g clip-path="url(#clf)">
<line x1="430.30" y1="196.70" x2="568.60" y2="277.30" stroke="#ccf8f8" stroke-width="4.9" stroke-linecap="round"/>
<line x1="430.30" y1="196.70" x2="568.60" y2="277.30" stroke="#ff0000" stroke-width="2.3" stroke-linecap="round"/>
<circle cx="433.10" cy="205.00" r="2.6" fill="#000"/>
<circle cx="442.30" cy="239.50" r="2.6" fill="#000"/>
<circle cx="451.20" cy="282.90" r="2.6" fill="#000"/>
<circle cx="463.10" cy="212.00" r="2.6" fill="#000"/>
<circle cx="481.80" cy="196.40" r="2.6" fill="#000"/>
<circle cx="487.90" cy="203.60" r="2.6" fill="#000"/>
<circle cx="489.60" cy="265.40" r="2.6" fill="#000"/>
<circle cx="499.30" cy="282.90" r="2.6" fill="#000"/>
<circle cx="503.50" cy="291.50" r="2.6" fill="#000"/>
<circle cx="510.20" cy="237.00" r="2.6" fill="#000"/>
<circle cx="522.40" cy="205.00" r="2.6" fill="#000"/>
<circle cx="531.30" cy="274.00" r="2.6" fill="#000"/>
<circle cx="539.70" cy="260.40" r="2.6" fill="#000"/>
<circle cx="540.20" cy="291.00" r="2.6" fill="#000"/>
<circle cx="565.20" cy="284.90" r="2.6" fill="#000"/>
<circle cx="568.00" cy="267.30" r="2.6" fill="#000"/>
</g>
<rect x="425.50" y="171.80" width="148.60" height="132.30" fill="none" stroke="#000" stroke-width="1.4"/>
<line x1="419.20" y1="177.30" x2="425.50" y2="177.30" stroke="#000" stroke-width="1.3"/>
<text x="419.90" y="181.60" font-size="10.4" text-anchor="end">10</text>
<line x1="419.20" y1="202.90" x2="425.50" y2="202.90" stroke="#000" stroke-width="1.3"/>
<text x="419.90" y="207.20" font-size="10.4" text-anchor="end">8</text>
<line x1="419.20" y1="228.70" x2="425.50" y2="228.70" stroke="#000" stroke-width="1.3"/>
<text x="419.90" y="233.00" font-size="10.4" text-anchor="end">6</text>
<line x1="419.20" y1="254.40" x2="425.50" y2="254.40" stroke="#000" stroke-width="1.3"/>
<text x="419.90" y="258.70" font-size="10.4" text-anchor="end">4</text>
<line x1="419.20" y1="280.00" x2="425.50" y2="280.00" stroke="#000" stroke-width="1.3"/>
<text x="419.90" y="284.30" font-size="10.4" text-anchor="end">2</text>
<line x1="433.60" y1="304.10" x2="433.60" y2="310.40" stroke="#000" stroke-width="1.3"/>
<text x="433.60" y="320.00" font-size="10.4" text-anchor="middle">-6</text>
<line x1="458.90" y1="304.10" x2="458.90" y2="310.40" stroke="#000" stroke-width="1.3"/>
<text x="458.90" y="320.00" font-size="10.4" text-anchor="middle">-4</text>
<line x1="484.20" y1="304.10" x2="484.20" y2="310.40" stroke="#000" stroke-width="1.3"/>
<text x="484.20" y="320.00" font-size="10.4" text-anchor="middle">-2</text>
<line x1="509.50" y1="304.10" x2="509.50" y2="310.40" stroke="#000" stroke-width="1.3"/>
<text x="509.50" y="320.00" font-size="10.4" text-anchor="middle">0</text>
<line x1="534.90" y1="304.10" x2="534.90" y2="310.40" stroke="#000" stroke-width="1.3"/>
<text x="534.90" y="320.00" font-size="10.4" text-anchor="middle">2</text>
<line x1="560.20" y1="304.10" x2="560.20" y2="310.40" stroke="#000" stroke-width="1.3"/>
<text x="560.20" y="320.00" font-size="10.4" text-anchor="middle">4</text>
<text x="500.20" y="335.50" font-size="10.8" text-anchor="middle">PDSI (autumn)</text>
<text x="0" y="0" font-size="10.7" text-anchor="middle" transform="translate(402.00,238.15) rotate(-90)">Lightning C/Tg</text>
<text x="400.70" y="182.10" font-size="13.9" text-anchor="end" textLength="9.34" lengthAdjust="spacingAndGlyphs">f)</text>
<g clip-path="url(#clg)">
<polygon points="44.20,433.47 46.53,432.96 48.87,432.44 51.20,431.90 53.54,431.36 55.87,430.80 58.20,430.23 60.54,429.65 62.87,429.05 65.21,428.43 67.54,427.79 69.87,427.13 72.21,426.45 74.54,425.74 76.87,425.00 79.21,424.24 81.54,423.44 83.88,422.60 86.21,421.73 88.54,420.81 90.88,419.86 93.21,418.86 95.55,417.81 97.88,416.71 100.21,415.57 102.55,414.38 104.88,413.13 107.22,411.85 109.55,410.51 111.88,409.13 114.22,407.71 116.55,406.25 118.88,404.75 121.22,403.22 123.55,401.66 125.89,400.07 128.22,398.45 130.55,396.80 132.89,395.14 135.22,393.45 137.56,391.74 139.89,390.02 142.22,388.28 144.56,386.53 146.89,384.76 149.23,382.99 151.56,381.20 153.89,379.40 156.23,377.60 158.56,375.78 160.89,373.96 163.23,372.13 165.56,370.29 167.90,368.45 170.23,366.60 172.56,364.75 174.90,362.89 177.23,361.03 179.57,359.17 181.90,357.30 181.90,417.94 179.57,418.39 177.23,418.84 174.90,419.30 172.56,419.76 170.23,420.22 167.90,420.69 165.56,421.17 163.23,421.65 160.89,422.13 158.56,422.63 156.23,423.13 153.89,423.64 151.56,424.16 149.23,424.69 146.89,425.23 144.56,425.78 142.22,426.34 139.89,426.92 137.56,427.51 135.22,428.12 132.89,428.75 130.55,429.40 128.22,430.08 125.89,430.77 123.55,431.50 121.22,432.25 118.88,433.04 116.55,433.85 114.22,434.71 111.88,435.61 109.55,436.55 107.22,437.53 104.88,438.55 102.55,439.63 100.21,440.75 97.88,441.93 95.55,443.15 93.21,444.41 90.88,445.73 88.54,447.09 86.21,448.49 83.88,449.94 81.54,451.42 79.21,452.93 76.87,454.48 74.54,456.06 72.21,457.67 69.87,459.31 67.54,460.96 65.21,462.64 62.87,464.34 60.54,466.06 58.20,467.79 55.87,469.53 53.54,471.29 51.20,473.07 48.87,474.85 46.53,476.64 44.20,478.45" fill="#e2e2e2"/>
<circle cx="44.20" cy="442.90" r="3.95" fill="#fff"/>
<circle cx="49.50" cy="424.30" r="3.95" fill="#fff"/>
<circle cx="52.50" cy="441.50" r="3.95" fill="#fff"/>
<circle cx="65.60" cy="470.20" r="3.95" fill="#fff"/>
<circle cx="73.40" cy="439.00" r="3.95" fill="#fff"/>
<circle cx="79.00" cy="411.70" r="3.95" fill="#fff"/>
<circle cx="85.10" cy="433.40" r="3.95" fill="#fff"/>
<circle cx="88.40" cy="379.20" r="3.95" fill="#fff"/>
<circle cx="94.00" cy="464.60" r="3.95" fill="#fff"/>
<circle cx="97.60" cy="452.10" r="3.95" fill="#fff"/>
<circle cx="97.60" cy="463.20" r="3.95" fill="#fff"/>
<circle cx="102.60" cy="429.00" r="3.95" fill="#fff"/>
<circle cx="107.90" cy="429.00" r="3.95" fill="#fff"/>
<circle cx="113.50" cy="434.00" r="3.95" fill="#fff"/>
<circle cx="113.70" cy="446.50" r="3.95" fill="#fff"/>
<circle cx="119.30" cy="443.70" r="3.95" fill="#fff"/>
<circle cx="152.40" cy="410.30" r="3.95" fill="#fff"/>
<circle cx="176.30" cy="377.50" r="3.95" fill="#fff"/>
<circle cx="181.90" cy="347.70" r="3.95" fill="#fff"/>
</g>
<g class="h"><text x="58.20" y="357.90" font-size="10.3" text-anchor="start" font-style="italic">y</text><rect x="67.45" y="352.60" width="5.2" height="3.8" fill="#b0b0b0"/><rect x="67.45" y="355.50" width="5.2" height="1.2" fill="#6a6a6a"/><text x="74.87" y="357.90" font-size="10.3" text-anchor="start" textLength="26.68" lengthAdjust="spacingAndGlyphs">0.065</text><text x="104.44" y="357.90" font-size="10.3" text-anchor="start" font-style="italic">x</text><text x="111.49" y="357.90" font-size="10.3" text-anchor="start" class="op">−</text><text x="119.41" y="357.90" font-size="10.3" text-anchor="start" textLength="20.75" lengthAdjust="spacingAndGlyphs">5.37</text><text x="58.20" y="371.40" font-size="10.3" text-anchor="start" font-style="italic" textLength="8.03" lengthAdjust="spacingAndGlyphs">R</text><text x="67.13" y="366.80" font-size="7.6" text-anchor="start">2</text><text x="73.66" y="371.40" font-size="10.3" text-anchor="start">=</text><text x="82.64" y="371.40" font-size="10.3" text-anchor="start" textLength="29.64" lengthAdjust="spacingAndGlyphs">0.367,</text><text x="117.87" y="371.40" font-size="10.3" text-anchor="start" font-style="italic">p</text><text x="128.40" y="371.40" font-size="10.3" text-anchor="start">=</text><text x="136.48" y="371.40" font-size="10.3" text-anchor="start" textLength="38.54" lengthAdjust="spacingAndGlyphs">0.00601</text></g><text x="58.20" y="357.90" font-size="10.3" text-anchor="start" font-style="italic">y</text><rect x="67.45" y="352.60" width="5.2" height="3.8" fill="#b0b0b0"/><rect x="67.45" y="355.50" width="5.2" height="1.2" fill="#6a6a6a"/><text x="74.87" y="357.90" font-size="10.3" text-anchor="start" textLength="26.68" lengthAdjust="spacingAndGlyphs">0.065</text><text x="104.44" y="357.90" font-size="10.3" text-anchor="start" font-style="italic">x</text><text x="111.49" y="357.90" font-size="10.3" text-anchor="start" class="op">−</text><text x="119.41" y="357.90" font-size="10.3" text-anchor="start" textLength="20.75" lengthAdjust="spacingAndGlyphs">5.37</text><text x="58.20" y="371.40" font-size="10.3" text-anchor="start" font-style="italic" textLength="8.03" lengthAdjust="spacingAndGlyphs">R</text><text x="67.13" y="366.80" font-size="7.6" text-anchor="start">2</text><text x="73.66" y="371.40" font-size="10.3" text-anchor="start">=</text><text x="82.64" y="371.40" font-size="10.3" text-anchor="start" textLength="29.64" lengthAdjust="spacingAndGlyphs">0.367,</text><text x="117.87" y="371.40" font-size="10.3" text-anchor="start" font-style="italic">p</text><text x="128.40" y="371.40" font-size="10.3" text-anchor="start">=</text><text x="136.48" y="371.40" font-size="10.3" text-anchor="start" textLength="38.54" lengthAdjust="spacingAndGlyphs">0.00601</text>
<g clip-path="url(#clg)">
<line x1="44.20" y1="455.96" x2="181.90" y2="387.62" stroke="#ccf8f8" stroke-width="4.9" stroke-linecap="round"/>
<line x1="44.20" y1="455.96" x2="181.90" y2="387.62" stroke="#ff0000" stroke-width="2.3" stroke-linecap="round"/>
<circle cx="44.20" cy="442.90" r="2.6" fill="#000"/>
<circle cx="49.50" cy="424.30" r="2.6" fill="#000"/>
<circle cx="52.50" cy="441.50" r="2.6" fill="#000"/>
<circle cx="65.60" cy="470.20" r="2.6" fill="#000"/>
<circle cx="73.40" cy="439.00" r="2.6" fill="#000"/>
<circle cx="79.00" cy="411.70" r="2.6" fill="#000"/>
<circle cx="85.10" cy="433.40" r="2.6" fill="#000"/>
<circle cx="88.40" cy="379.20" r="2.6" fill="#000"/>
<circle cx="94.00" cy="464.60" r="2.6" fill="#000"/>
<circle cx="97.60" cy="452.10" r="2.6" fill="#000"/>
<circle cx="97.60" cy="463.20" r="2.6" fill="#000"/>
<circle cx="102.60" cy="429.00" r="2.6" fill="#000"/>
<circle cx="107.90" cy="429.00" r="2.6" fill="#000"/>
<circle cx="113.50" cy="434.00" r="2.6" fill="#000"/>
<circle cx="113.70" cy="446.50" r="2.6" fill="#000"/>
<circle cx="119.30" cy="443.70" r="2.6" fill="#000"/>
<circle cx="152.40" cy="410.30" r="2.6" fill="#000"/>
<circle cx="176.30" cy="377.50" r="2.6" fill="#000"/>
<circle cx="181.90" cy="347.70" r="2.6" fill="#000"/>
</g>
<rect x="38.70" y="342.10" width="148.60" height="132.30" fill="none" stroke="#000" stroke-width="1.4"/>
<line x1="32.40" y1="347.40" x2="38.70" y2="347.40" stroke="#000" stroke-width="1.3"/>
<text x="33.10" y="351.70" font-size="10.4" text-anchor="end">16</text>
<line x1="32.40" y1="374.80" x2="38.70" y2="374.80" stroke="#000" stroke-width="1.3"/>
<text x="33.10" y="379.10" font-size="10.4" text-anchor="end">14</text>
<line x1="32.40" y1="402.20" x2="38.70" y2="402.20" stroke="#000" stroke-width="1.3"/>
<text x="33.10" y="406.50" font-size="10.4" text-anchor="end">12</text>
<line x1="32.40" y1="429.60" x2="38.70" y2="429.60" stroke="#000" stroke-width="1.3"/>
<text x="33.10" y="433.90" font-size="10.4" text-anchor="end">10</text>
<line x1="32.40" y1="457.00" x2="38.70" y2="457.00" stroke="#000" stroke-width="1.3"/>
<text x="33.10" y="461.30" font-size="10.4" text-anchor="end">8</text>
<line x1="68.90" y1="474.40" x2="68.90" y2="480.70" stroke="#000" stroke-width="1.3"/>
<text x="68.90" y="490.30" font-size="10.4" text-anchor="middle">220</text>
<line x1="104.50" y1="474.40" x2="104.50" y2="480.70" stroke="#000" stroke-width="1.3"/>
<text x="104.50" y="490.30" font-size="10.4" text-anchor="middle">240</text>
<line x1="140.10" y1="474.40" x2="140.10" y2="480.70" stroke="#000" stroke-width="1.3"/>
<text x="140.10" y="490.30" font-size="10.4" text-anchor="middle">260</text>
<line x1="175.70" y1="474.40" x2="175.70" y2="480.70" stroke="#000" stroke-width="1.3"/>
<text x="175.70" y="490.30" font-size="10.4" text-anchor="middle">280</text>
<text x="113.40" y="505.80" font-size="10.8" text-anchor="middle">P (spring)</text>
<text x="0" y="0" font-size="10.7" text-anchor="middle" transform="translate(15.20,408.45) rotate(-90)">Human C/Tg</text>
<text x="13.90" y="352.40" font-size="13.9" text-anchor="end" textLength="13.60" lengthAdjust="spacingAndGlyphs">g)</text>
<g clip-path="url(#clh)">
<polygon points="237.70,370.58 240.03,372.25 242.35,373.91 244.68,375.56 247.00,377.21 249.33,378.84 251.65,380.47 253.98,382.10 256.30,383.71 258.63,385.31 260.95,386.90 263.28,388.48 265.61,390.04 267.93,391.59 270.26,393.12 272.58,394.63 274.91,396.12 277.23,397.58 279.56,399.03 281.88,400.44 284.21,401.83 286.53,403.18 288.86,404.49 291.18,405.76 293.51,406.99 295.84,408.17 298.16,409.30 300.49,410.38 302.81,411.40 305.14,412.36 307.46,413.26 309.79,414.10 312.11,414.88 314.44,415.60 316.76,416.25 319.09,416.85 321.42,417.39 323.74,417.88 326.07,418.31 328.39,418.71 330.72,419.06 333.04,419.37 335.37,419.64 337.69,419.88 340.02,420.10 342.34,420.28 344.67,420.44 346.99,420.58 349.32,420.70 351.65,420.80 353.97,420.88 356.30,420.95 358.62,421.01 360.95,421.05 363.27,421.08 365.60,421.11 367.92,421.12 370.25,421.12 372.57,421.12 374.90,421.10 374.90,481.81 372.57,480.16 370.25,478.52 367.92,476.89 365.60,475.27 363.27,473.65 360.95,472.05 358.62,470.45 356.30,468.87 353.97,467.30 351.65,465.75 349.32,464.21 346.99,462.70 344.67,461.20 342.34,459.72 340.02,458.27 337.69,456.85 335.37,455.45 333.04,454.09 330.72,452.77 328.39,451.48 326.07,450.24 323.74,449.04 321.42,447.89 319.09,446.79 316.76,445.75 314.44,444.77 312.11,443.85 309.79,442.99 307.46,442.19 305.14,441.46 302.81,440.78 300.49,440.17 298.16,439.61 295.84,439.10 293.51,438.65 291.18,438.24 288.86,437.88 286.53,437.55 284.21,437.27 281.88,437.01 279.56,436.79 277.23,436.60 274.91,436.43 272.58,436.28 270.26,436.16 267.93,436.05 265.61,435.96 263.28,435.89 260.95,435.83 258.63,435.78 256.30,435.75 253.98,435.72 251.65,435.71 249.33,435.70 247.00,435.70 244.68,435.71 242.35,435.73 240.03,435.75 237.70,435.78" fill="#e2e2e2"/>
<circle cx="237.70" cy="379.20" r="3.95" fill="#fff"/>
<circle cx="274.50" cy="411.70" r="3.95" fill="#fff"/>
<circle cx="278.60" cy="429.00" r="3.95" fill="#fff"/>
<circle cx="287.30" cy="410.30" r="3.95" fill="#fff"/>
<circle cx="288.10" cy="429.00" r="3.95" fill="#fff"/>
<circle cx="288.10" cy="443.70" r="3.95" fill="#fff"/>
<circle cx="291.40" cy="377.50" r="3.95" fill="#fff"/>
<circle cx="292.60" cy="446.50" r="3.95" fill="#fff"/>
<circle cx="293.70" cy="434.00" r="3.95" fill="#fff"/>
<circle cx="294.20" cy="463.20" r="3.95" fill="#fff"/>
<circle cx="307.30" cy="441.50" r="3.95" fill="#fff"/>
<circle cx="310.60" cy="424.30" r="3.95" fill="#fff"/>
<circle cx="312.30" cy="347.70" r="3.95" fill="#fff"/>
<circle cx="314.50" cy="470.20" r="3.95" fill="#fff"/>
<circle cx="349.00" cy="464.60" r="3.95" fill="#fff"/>
<circle cx="353.20" cy="452.10" r="3.95" fill="#fff"/>
<circle cx="364.30" cy="433.40" r="3.95" fill="#fff"/>
<circle cx="366.30" cy="439.00" r="3.95" fill="#fff"/>
<circle cx="374.90" cy="442.90" r="3.95" fill="#fff"/>
</g>
<g class="h"><text x="251.50" y="357.90" font-size="10.3" text-anchor="start" font-style="italic">y</text><rect x="260.75" y="352.60" width="5.2" height="3.8" fill="#b0b0b0"/><rect x="260.75" y="355.50" width="5.2" height="1.2" fill="#6a6a6a"/><text x="268.17" y="357.90" font-size="10.3" text-anchor="start" class="op">−</text><text x="275.88" y="357.90" font-size="10.3" text-anchor="start" textLength="20.75" lengthAdjust="spacingAndGlyphs">0.78</text><text x="299.53" y="357.90" font-size="10.3" text-anchor="start" font-style="italic">x</text><text x="306.58" y="357.90" font-size="10.3" text-anchor="start" class="op pl">+</text><text x="314.49" y="357.90" font-size="10.3" text-anchor="start" textLength="20.75" lengthAdjust="spacingAndGlyphs">15.4</text><text x="251.50" y="371.40" font-size="10.3" text-anchor="start" font-style="italic" textLength="8.03" lengthAdjust="spacingAndGlyphs">R</text><text x="260.43" y="366.80" font-size="7.6" text-anchor="start">2</text><text x="266.96" y="371.40" font-size="10.3" text-anchor="start">=</text><text x="275.94" y="371.40" font-size="10.3" text-anchor="start" textLength="29.64" lengthAdjust="spacingAndGlyphs">0.165,</text><text x="311.17" y="371.40" font-size="10.3" text-anchor="start" font-style="italic">p</text><text x="321.70" y="371.40" font-size="10.3" text-anchor="start">=</text><text x="329.78" y="371.40" font-size="10.3" text-anchor="start" textLength="32.61" lengthAdjust="spacingAndGlyphs">0.0845</text></g><text x="251.50" y="357.90" font-size="10.3" text-anchor="start" font-style="italic">y</text><rect x="260.75" y="352.60" width="5.2" height="3.8" fill="#b0b0b0"/><rect x="260.75" y="355.50" width="5.2" height="1.2" fill="#6a6a6a"/><text x="268.17" y="357.90" font-size="10.3" text-anchor="start" class="op">−</text><text x="275.88" y="357.90" font-size="10.3" text-anchor="start" textLength="20.75" lengthAdjust="spacingAndGlyphs">0.78</text><text x="299.53" y="357.90" font-size="10.3" text-anchor="start" font-style="italic">x</text><text x="306.58" y="357.90" font-size="10.3" text-anchor="start" class="op pl">+</text><text x="314.49" y="357.90" font-size="10.3" text-anchor="start" textLength="20.75" lengthAdjust="spacingAndGlyphs">15.4</text><text x="251.50" y="371.40" font-size="10.3" text-anchor="start" font-style="italic" textLength="8.03" lengthAdjust="spacingAndGlyphs">R</text><text x="260.43" y="366.80" font-size="7.6" text-anchor="start">2</text><text x="266.96" y="371.40" font-size="10.3" text-anchor="start">=</text><text x="275.94" y="371.40" font-size="10.3" text-anchor="start" textLength="29.64" lengthAdjust="spacingAndGlyphs">0.165,</text><text x="311.17" y="371.40" font-size="10.3" text-anchor="start" font-style="italic">p</text><text x="321.70" y="371.40" font-size="10.3" text-anchor="start">=</text><text x="329.78" y="371.40" font-size="10.3" text-anchor="start" textLength="32.61" lengthAdjust="spacingAndGlyphs">0.0845</text>
<g clip-path="url(#clh)">
<line x1="237.70" y1="403.18" x2="374.90" y2="451.46" stroke="#ccf8f8" stroke-width="4.9" stroke-linecap="round"/>
<line x1="237.70" y1="403.18" x2="374.90" y2="451.46" stroke="#ff0000" stroke-width="2.3" stroke-linecap="round"/>
<circle cx="237.70" cy="379.20" r="2.6" fill="#000"/>
<circle cx="274.50" cy="411.70" r="2.6" fill="#000"/>
<circle cx="278.60" cy="429.00" r="2.6" fill="#000"/>
<circle cx="287.30" cy="410.30" r="2.6" fill="#000"/>
<circle cx="288.10" cy="429.00" r="2.6" fill="#000"/>
<circle cx="288.10" cy="443.70" r="2.6" fill="#000"/>
<circle cx="291.40" cy="377.50" r="2.6" fill="#000"/>
<circle cx="292.60" cy="446.50" r="2.6" fill="#000"/>
<circle cx="293.70" cy="434.00" r="2.6" fill="#000"/>
<circle cx="294.20" cy="463.20" r="2.6" fill="#000"/>
<circle cx="307.30" cy="441.50" r="2.6" fill="#000"/>
<circle cx="310.60" cy="424.30" r="2.6" fill="#000"/>
<circle cx="312.30" cy="347.70" r="2.6" fill="#000"/>
<circle cx="314.50" cy="470.20" r="2.6" fill="#000"/>
<circle cx="349.00" cy="464.60" r="2.6" fill="#000"/>
<circle cx="353.20" cy="452.10" r="2.6" fill="#000"/>
<circle cx="364.30" cy="433.40" r="2.6" fill="#000"/>
<circle cx="366.30" cy="439.00" r="2.6" fill="#000"/>
<circle cx="374.90" cy="442.90" r="2.6" fill="#000"/>
</g>
<rect x="232.00" y="342.10" width="148.60" height="132.30" fill="none" stroke="#000" stroke-width="1.4"/>
<line x1="225.70" y1="347.40" x2="232.00" y2="347.40" stroke="#000" stroke-width="1.3"/>
<text x="226.40" y="351.70" font-size="10.4" text-anchor="end">16</text>
<line x1="225.70" y1="374.80" x2="232.00" y2="374.80" stroke="#000" stroke-width="1.3"/>
<text x="226.40" y="379.10" font-size="10.4" text-anchor="end">14</text>
<line x1="225.70" y1="402.20" x2="232.00" y2="402.20" stroke="#000" stroke-width="1.3"/>
<text x="226.40" y="406.50" font-size="10.4" text-anchor="end">12</text>
<line x1="225.70" y1="429.60" x2="232.00" y2="429.60" stroke="#000" stroke-width="1.3"/>
<text x="226.40" y="433.90" font-size="10.4" text-anchor="end">10</text>
<line x1="225.70" y1="457.00" x2="232.00" y2="457.00" stroke="#000" stroke-width="1.3"/>
<text x="226.40" y="461.30" font-size="10.4" text-anchor="end">8</text>
<line x1="251.60" y1="474.40" x2="251.60" y2="480.70" stroke="#000" stroke-width="1.3"/>
<text x="251.60" y="490.30" font-size="10.4" text-anchor="middle">5</text>
<line x1="281.50" y1="474.40" x2="281.50" y2="480.70" stroke="#000" stroke-width="1.3"/>
<text x="281.50" y="490.30" font-size="10.4" text-anchor="middle">6</text>
<line x1="311.40" y1="474.40" x2="311.40" y2="480.70" stroke="#000" stroke-width="1.3"/>
<text x="311.40" y="490.30" font-size="10.4" text-anchor="middle">7</text>
<line x1="341.30" y1="474.40" x2="341.30" y2="480.70" stroke="#000" stroke-width="1.3"/>
<text x="341.30" y="490.30" font-size="10.4" text-anchor="middle">8</text>
<line x1="371.20" y1="474.40" x2="371.20" y2="480.70" stroke="#000" stroke-width="1.3"/>
<text x="371.20" y="490.30" font-size="10.4" text-anchor="middle">9</text>
<text x="306.70" y="505.80" font-size="10.8" text-anchor="middle">max T (winter)</text>
<text x="0" y="0" font-size="10.7" text-anchor="middle" transform="translate(208.50,408.45) rotate(-90)">Human C/Tg</text>
<text x="207.20" y="352.40" font-size="13.9" text-anchor="end" textLength="13.60" lengthAdjust="spacingAndGlyphs">h)</text>
<g clip-path="url(#cli)">
<polygon points="430.90,420.58 433.22,420.58 435.55,420.58 437.87,420.57 440.19,420.55 442.52,420.52 444.84,420.48 447.17,420.43 449.49,420.37 451.81,420.30 454.14,420.21 456.46,420.10 458.78,419.98 461.11,419.84 463.43,419.68 465.76,419.50 468.08,419.29 470.40,419.06 472.73,418.80 475.05,418.51 477.37,418.18 479.70,417.83 482.02,417.43 484.35,417.00 486.67,416.52 488.99,416.00 491.32,415.43 493.64,414.82 495.96,414.16 498.29,413.45 500.61,412.70 502.94,411.90 505.26,411.05 507.58,410.16 509.91,409.22 512.23,408.24 514.55,407.23 516.88,406.17 519.20,405.09 521.53,403.97 523.85,402.82 526.17,401.64 528.50,400.44 530.82,399.22 533.14,397.97 535.47,396.70 537.79,395.42 540.12,394.12 542.44,392.80 544.76,391.47 547.09,390.13 549.41,388.78 551.73,387.41 554.06,386.04 556.38,384.65 558.71,383.26 561.03,381.86 563.35,380.45 565.68,379.03 568.00,377.61 568.00,436.28 565.68,436.26 563.35,436.25 561.03,436.24 558.71,436.24 556.38,436.25 554.06,436.27 551.73,436.29 549.41,436.33 547.09,436.37 544.76,436.43 542.44,436.50 540.12,436.59 537.79,436.69 535.47,436.81 533.14,436.94 530.82,437.10 528.50,437.27 526.17,437.47 523.85,437.70 521.53,437.95 519.20,438.23 516.88,438.55 514.55,438.89 512.23,439.28 509.91,439.70 507.58,440.17 505.26,440.68 502.94,441.23 500.61,441.83 498.29,442.48 495.96,443.17 493.64,443.91 491.32,444.70 488.99,445.54 486.67,446.42 484.35,447.34 482.02,448.31 479.70,449.31 477.37,450.36 475.05,451.43 472.73,452.55 470.40,453.69 468.08,454.86 465.76,456.05 463.43,457.27 461.11,458.51 458.78,459.77 456.46,461.05 454.14,462.35 451.81,463.66 449.49,464.98 447.17,466.32 444.84,467.68 442.52,469.04 440.19,470.41 437.87,471.79 435.55,473.18 433.22,474.58 430.90,475.99" fill="#e2e2e2"/>
<circle cx="430.90" cy="441.50" r="3.95" fill="#fff"/>
<circle cx="442.80" cy="434.00" r="3.95" fill="#fff"/>
<circle cx="451.70" cy="439.00" r="3.95" fill="#fff"/>
<circle cx="459.00" cy="464.60" r="3.95" fill="#fff"/>
<circle cx="467.90" cy="442.90" r="3.95" fill="#fff"/>
<circle cx="469.30" cy="470.20" r="3.95" fill="#fff"/>
<circle cx="474.00" cy="446.50" r="3.95" fill="#fff"/>
<circle cx="476.80" cy="411.70" r="3.95" fill="#fff"/>
<circle cx="480.40" cy="433.40" r="3.95" fill="#fff"/>
<circle cx="484.00" cy="443.70" r="3.95" fill="#fff"/>
<circle cx="497.90" cy="429.00" r="3.95" fill="#fff"/>
<circle cx="499.90" cy="377.50" r="3.95" fill="#fff"/>
<circle cx="515.70" cy="429.00" r="3.95" fill="#fff"/>
<circle cx="526.30" cy="410.30" r="3.95" fill="#fff"/>
<circle cx="539.70" cy="424.30" r="3.95" fill="#fff"/>
<circle cx="544.40" cy="347.70" r="3.95" fill="#fff"/>
<circle cx="545.20" cy="452.10" r="3.95" fill="#fff"/>
<circle cx="565.50" cy="379.20" r="3.95" fill="#fff"/>
<circle cx="568.00" cy="463.20" r="3.95" fill="#fff"/>
</g>
<g class="h"><text x="445.00" y="357.90" font-size="10.3" text-anchor="start" font-style="italic">y</text><rect x="454.25" y="352.60" width="5.2" height="3.8" fill="#b0b0b0"/><rect x="454.25" y="355.50" width="5.2" height="1.2" fill="#6a6a6a"/><text x="461.67" y="357.90" font-size="10.3" text-anchor="start" textLength="26.68" lengthAdjust="spacingAndGlyphs">0.506</text><text x="491.24" y="357.90" font-size="10.3" text-anchor="start" font-style="italic">x</text><text x="498.29" y="357.90" font-size="10.3" text-anchor="start" class="op pl">+</text><text x="506.21" y="357.90" font-size="10.3" text-anchor="start" textLength="20.75" lengthAdjust="spacingAndGlyphs">9.88</text><text x="445.00" y="371.40" font-size="10.3" text-anchor="start" font-style="italic" textLength="8.03" lengthAdjust="spacingAndGlyphs">R</text><text x="453.93" y="366.80" font-size="7.6" text-anchor="start">2</text><text x="460.46" y="371.40" font-size="10.3" text-anchor="start">=</text><text x="469.44" y="371.40" font-size="10.3" text-anchor="start" textLength="29.64" lengthAdjust="spacingAndGlyphs">0.157,</text><text x="504.67" y="371.40" font-size="10.3" text-anchor="start" font-style="italic">p</text><text x="515.20" y="371.40" font-size="10.3" text-anchor="start">=</text><text x="523.28" y="371.40" font-size="10.3" text-anchor="start" textLength="32.61" lengthAdjust="spacingAndGlyphs">0.0927</text></g><text x="445.00" y="357.90" font-size="10.3" text-anchor="start" font-style="italic">y</text><rect x="454.25" y="352.60" width="5.2" height="3.8" fill="#b0b0b0"/><rect x="454.25" y="355.50" width="5.2" height="1.2" fill="#6a6a6a"/><text x="461.67" y="357.90" font-size="10.3" text-anchor="start" textLength="26.68" lengthAdjust="spacingAndGlyphs">0.506</text><text x="491.24" y="357.90" font-size="10.3" text-anchor="start" font-style="italic">x</text><text x="498.29" y="357.90" font-size="10.3" text-anchor="start" class="op pl">+</text><text x="506.21" y="357.90" font-size="10.3" text-anchor="start" textLength="20.75" lengthAdjust="spacingAndGlyphs">9.88</text><text x="445.00" y="371.40" font-size="10.3" text-anchor="start" font-style="italic" textLength="8.03" lengthAdjust="spacingAndGlyphs">R</text><text x="453.93" y="366.80" font-size="7.6" text-anchor="start">2</text><text x="460.46" y="371.40" font-size="10.3" text-anchor="start">=</text><text x="469.44" y="371.40" font-size="10.3" text-anchor="start" textLength="29.64" lengthAdjust="spacingAndGlyphs">0.157,</text><text x="504.67" y="371.40" font-size="10.3" text-anchor="start" font-style="italic">p</text><text x="515.20" y="371.40" font-size="10.3" text-anchor="start">=</text><text x="523.28" y="371.40" font-size="10.3" text-anchor="start" textLength="32.61" lengthAdjust="spacingAndGlyphs">0.0927</text>
<g clip-path="url(#cli)">
<line x1="430.90" y1="448.28" x2="568.00" y2="406.95" stroke="#ccf8f8" stroke-width="4.9" stroke-linecap="round"/>
<line x1="430.90" y1="448.28" x2="568.00" y2="406.95" stroke="#ff0000" stroke-width="2.3" stroke-linecap="round"/>
<circle cx="430.90" cy="441.50" r="2.6" fill="#000"/>
<circle cx="442.80" cy="434.00" r="2.6" fill="#000"/>
<circle cx="451.70" cy="439.00" r="2.6" fill="#000"/>
<circle cx="459.00" cy="464.60" r="2.6" fill="#000"/>
<circle cx="467.90" cy="442.90" r="2.6" fill="#000"/>
<circle cx="469.30" cy="470.20" r="2.6" fill="#000"/>
<circle cx="474.00" cy="446.50" r="2.6" fill="#000"/>
<circle cx="476.80" cy="411.70" r="2.6" fill="#000"/>
<circle cx="480.40" cy="433.40" r="2.6" fill="#000"/>
<circle cx="484.00" cy="443.70" r="2.6" fill="#000"/>
<circle cx="497.90" cy="429.00" r="2.6" fill="#000"/>
<circle cx="499.90" cy="377.50" r="2.6" fill="#000"/>
<circle cx="515.70" cy="429.00" r="2.6" fill="#000"/>
<circle cx="526.30" cy="410.30" r="2.6" fill="#000"/>
<circle cx="539.70" cy="424.30" r="2.6" fill="#000"/>
<circle cx="544.40" cy="347.70" r="2.6" fill="#000"/>
<circle cx="545.20" cy="452.10" r="2.6" fill="#000"/>
<circle cx="565.50" cy="379.20" r="2.6" fill="#000"/>
<circle cx="568.00" cy="463.20" r="2.6" fill="#000"/>
</g>
<rect x="425.50" y="342.10" width="148.60" height="132.30" fill="none" stroke="#000" stroke-width="1.4"/>
<line x1="419.20" y1="347.40" x2="425.50" y2="347.40" stroke="#000" stroke-width="1.3"/>
<text x="419.90" y="351.70" font-size="10.4" text-anchor="end">16</text>
<line x1="419.20" y1="374.80" x2="425.50" y2="374.80" stroke="#000" stroke-width="1.3"/>
<text x="419.90" y="379.10" font-size="10.4" text-anchor="end">14</text>
<line x1="419.20" y1="402.20" x2="425.50" y2="402.20" stroke="#000" stroke-width="1.3"/>
<text x="419.90" y="406.50" font-size="10.4" text-anchor="end">12</text>
<line x1="419.20" y1="429.60" x2="425.50" y2="429.60" stroke="#000" stroke-width="1.3"/>
<text x="419.90" y="433.90" font-size="10.4" text-anchor="end">10</text>
<line x1="419.20" y1="457.00" x2="425.50" y2="457.00" stroke="#000" stroke-width="1.3"/>
<text x="419.90" y="461.30" font-size="10.4" text-anchor="end">8</text>
<line x1="444.90" y1="474.40" x2="444.90" y2="480.70" stroke="#000" stroke-width="1.3"/>
<text x="444.90" y="490.30" font-size="10.4" text-anchor="middle">-2</text>
<line x1="467.60" y1="474.40" x2="467.60" y2="480.70" stroke="#000" stroke-width="1.3"/>
<text x="467.60" y="490.30" font-size="10.4" text-anchor="middle">-1</text>
<line x1="490.30" y1="474.40" x2="490.30" y2="480.70" stroke="#000" stroke-width="1.3"/>
<text x="490.30" y="490.30" font-size="10.4" text-anchor="middle">0</text>
<line x1="513.00" y1="474.40" x2="513.00" y2="480.70" stroke="#000" stroke-width="1.3"/>
<text x="513.00" y="490.30" font-size="10.4" text-anchor="middle">1</text>
<line x1="535.70" y1="474.40" x2="535.70" y2="480.70" stroke="#000" stroke-width="1.3"/>
<text x="535.70" y="490.30" font-size="10.4" text-anchor="middle">2</text>
<line x1="558.40" y1="474.40" x2="558.40" y2="480.70" stroke="#000" stroke-width="1.3"/>
<text x="558.40" y="490.30" font-size="10.4" text-anchor="middle">3</text>
<text x="500.20" y="505.80" font-size="10.8" text-anchor="middle">PDSI (winter)</text>
<text x="0" y="0" font-size="10.7" text-anchor="middle" transform="translate(402.00,408.45) rotate(-90)">Human C/Tg</text>
<text x="400.70" y="352.40" font-size="13.9" text-anchor="end" textLength="8.49" lengthAdjust="spacingAndGlyphs">i)</text></svg></body></html>
